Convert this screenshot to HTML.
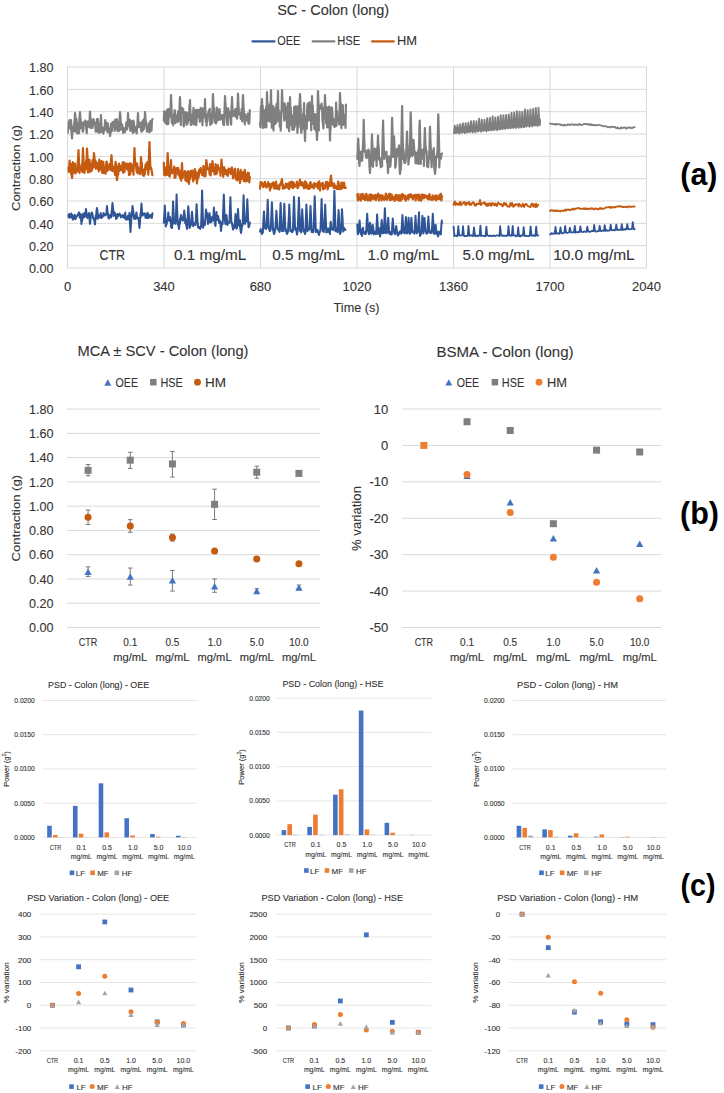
<!DOCTYPE html>
<html><head><meta charset="utf-8"><style>
html,body{margin:0;padding:0;background:#fff;}
svg{display:block;font-family:"Liberation Sans", sans-serif;}

</style></head><body>
<svg width="724" height="1093" viewBox="0 0 724 1093">
<defs><clipPath id="clipA"><rect x="67.5" y="67.0" width="579.0" height="201.0"/></clipPath></defs>
<rect width="724" height="1093" fill="#fff"/>
<text x="333.2" y="15.2" font-size="14" text-anchor="middle" textLength="112" lengthAdjust="spacingAndGlyphs" fill="#333333" stroke="#333333" stroke-width="0.10">SC - Colon (long)</text>
<line x1="251.6" y1="41.4" x2="275.4" y2="41.4" stroke="#2f5597" stroke-width="2.2"/>
<text x="277.3" y="45.3" font-size="12" textLength="23" lengthAdjust="spacingAndGlyphs" fill="#333333" stroke="#333333" stroke-width="0.10">OEE</text>
<line x1="311.8" y1="41.4" x2="335.3" y2="41.4" stroke="#7f7f7f" stroke-width="2.2"/>
<text x="337.2" y="45.3" font-size="12" textLength="23" lengthAdjust="spacingAndGlyphs" fill="#333333" stroke="#333333" stroke-width="0.10">HSE</text>
<line x1="371.2" y1="41.4" x2="394.7" y2="41.4" stroke="#c55a11" stroke-width="2.2"/>
<text x="397" y="45.3" font-size="12" textLength="20" lengthAdjust="spacingAndGlyphs" fill="#333333" stroke="#333333" stroke-width="0.10">HM</text>
<line x1="67.5" y1="268.0" x2="646.5" y2="268.0" stroke="#d9d9d9" stroke-width="1"/>
<text x="53.5" y="273.2" font-size="13" text-anchor="end" textLength="24.5" lengthAdjust="spacingAndGlyphs" fill="#333333" stroke="#333333" stroke-width="0.10">0.00</text>
<line x1="67.5" y1="245.66666666666666" x2="646.5" y2="245.66666666666666" stroke="#d9d9d9" stroke-width="1"/>
<text x="53.5" y="250.86666666666665" font-size="13" text-anchor="end" textLength="24.5" lengthAdjust="spacingAndGlyphs" fill="#333333" stroke="#333333" stroke-width="0.10">0.20</text>
<line x1="67.5" y1="223.33333333333331" x2="646.5" y2="223.33333333333331" stroke="#d9d9d9" stroke-width="1"/>
<text x="53.5" y="228.5333333333333" font-size="13" text-anchor="end" textLength="24.5" lengthAdjust="spacingAndGlyphs" fill="#333333" stroke="#333333" stroke-width="0.10">0.40</text>
<line x1="67.5" y1="201.0" x2="646.5" y2="201.0" stroke="#d9d9d9" stroke-width="1"/>
<text x="53.5" y="206.2" font-size="13" text-anchor="end" textLength="24.5" lengthAdjust="spacingAndGlyphs" fill="#333333" stroke="#333333" stroke-width="0.10">0.60</text>
<line x1="67.5" y1="178.66666666666666" x2="646.5" y2="178.66666666666666" stroke="#d9d9d9" stroke-width="1"/>
<text x="53.5" y="183.86666666666665" font-size="13" text-anchor="end" textLength="24.5" lengthAdjust="spacingAndGlyphs" fill="#333333" stroke="#333333" stroke-width="0.10">0.80</text>
<line x1="67.5" y1="156.33333333333334" x2="646.5" y2="156.33333333333334" stroke="#d9d9d9" stroke-width="1"/>
<text x="53.5" y="161.53333333333333" font-size="13" text-anchor="end" textLength="24.5" lengthAdjust="spacingAndGlyphs" fill="#333333" stroke="#333333" stroke-width="0.10">1.00</text>
<line x1="67.5" y1="133.99999999999997" x2="646.5" y2="133.99999999999997" stroke="#d9d9d9" stroke-width="1"/>
<text x="53.5" y="139.19999999999996" font-size="13" text-anchor="end" textLength="24.5" lengthAdjust="spacingAndGlyphs" fill="#333333" stroke="#333333" stroke-width="0.10">1.20</text>
<line x1="67.5" y1="111.66666666666666" x2="646.5" y2="111.66666666666666" stroke="#d9d9d9" stroke-width="1"/>
<text x="53.5" y="116.86666666666666" font-size="13" text-anchor="end" textLength="24.5" lengthAdjust="spacingAndGlyphs" fill="#333333" stroke="#333333" stroke-width="0.10">1.40</text>
<line x1="67.5" y1="89.33333333333331" x2="646.5" y2="89.33333333333331" stroke="#d9d9d9" stroke-width="1"/>
<text x="53.5" y="94.53333333333332" font-size="13" text-anchor="end" textLength="24.5" lengthAdjust="spacingAndGlyphs" fill="#333333" stroke="#333333" stroke-width="0.10">1.60</text>
<line x1="67.5" y1="67.0" x2="646.5" y2="67.0" stroke="#d9d9d9" stroke-width="1"/>
<text x="53.5" y="72.2" font-size="13" text-anchor="end" textLength="24.5" lengthAdjust="spacingAndGlyphs" fill="#333333" stroke="#333333" stroke-width="0.10">1.80</text>
<line x1="67.5" y1="67.0" x2="67.5" y2="268.0" stroke="#d9d9d9" stroke-width="1"/>
<text x="67.5" y="291" font-size="13" text-anchor="middle" fill="#333333" stroke="#333333" stroke-width="0.10">0</text>
<line x1="164.0" y1="67.0" x2="164.0" y2="268.0" stroke="#d9d9d9" stroke-width="1"/>
<text x="164.0" y="291" font-size="13" text-anchor="middle" fill="#333333" stroke="#333333" stroke-width="0.10">340</text>
<line x1="260.5" y1="67.0" x2="260.5" y2="268.0" stroke="#d9d9d9" stroke-width="1"/>
<text x="260.5" y="291" font-size="13" text-anchor="middle" fill="#333333" stroke="#333333" stroke-width="0.10">680</text>
<line x1="357.0" y1="67.0" x2="357.0" y2="268.0" stroke="#d9d9d9" stroke-width="1"/>
<text x="357.0" y="291" font-size="13" text-anchor="middle" fill="#333333" stroke="#333333" stroke-width="0.10">1020</text>
<line x1="453.5" y1="67.0" x2="453.5" y2="268.0" stroke="#d9d9d9" stroke-width="1"/>
<text x="453.5" y="291" font-size="13" text-anchor="middle" fill="#333333" stroke="#333333" stroke-width="0.10">1360</text>
<line x1="550.0" y1="67.0" x2="550.0" y2="268.0" stroke="#d9d9d9" stroke-width="1"/>
<text x="550.0" y="291" font-size="13" text-anchor="middle" fill="#333333" stroke="#333333" stroke-width="0.10">1700</text>
<line x1="646.5" y1="67.0" x2="646.5" y2="268.0" stroke="#d9d9d9" stroke-width="1"/>
<text x="646.5" y="291" font-size="13" text-anchor="middle" fill="#333333" stroke="#333333" stroke-width="0.10">2040</text>
<text x="356.6" y="312.4" font-size="13" text-anchor="middle" textLength="46" lengthAdjust="spacingAndGlyphs" fill="#333333" stroke="#333333" stroke-width="0.10">Time (s)</text>
<text x="0" y="0" transform="translate(19.8,168) rotate(-90)" font-size="11.5" text-anchor="middle" textLength="86" lengthAdjust="spacingAndGlyphs" fill="#333333" stroke="#333333" stroke-width="0.12">Contraction (g)</text>
<text x="112.3" y="259.6" font-size="14.5" text-anchor="middle" textLength="25.5" lengthAdjust="spacingAndGlyphs" fill="#333333" stroke="#333333" stroke-width="0.10">CTR</text>
<text x="210.2" y="259.6" font-size="14.5" text-anchor="middle" textLength="72.3" lengthAdjust="spacingAndGlyphs" fill="#333333" stroke="#333333" stroke-width="0.10">0.1 mg/mL</text>
<text x="308.5" y="259.6" font-size="14.5" text-anchor="middle" textLength="72.3" lengthAdjust="spacingAndGlyphs" fill="#333333" stroke="#333333" stroke-width="0.10">0.5 mg/mL</text>
<text x="403.3" y="259.6" font-size="14.5" text-anchor="middle" textLength="71.8" lengthAdjust="spacingAndGlyphs" fill="#333333" stroke="#333333" stroke-width="0.10">1.0 mg/mL</text>
<text x="498.5" y="259.6" font-size="14.5" text-anchor="middle" textLength="71.8" lengthAdjust="spacingAndGlyphs" fill="#333333" stroke="#333333" stroke-width="0.10">5.0 mg/mL</text>
<text x="593.9" y="259.6" font-size="14.5" text-anchor="middle" textLength="81.5" lengthAdjust="spacingAndGlyphs" fill="#333333" stroke="#333333" stroke-width="0.10">10.0 mg/mL</text>
<text x="698.8" y="184.5" font-size="32" text-anchor="middle" textLength="37" lengthAdjust="spacingAndGlyphs" font-weight="bold" fill="#000">(a)</text>
<g clip-path="url(#clipA)">
<path d="M67.8,132.7 L68.2,125.8 L68.7,121.6 L69.2,126.5 L69.6,120.2 L70.0,123.6 L70.5,129.2 L71.0,120.1 L71.2,128.6 L71.4,130.5 L71.8,136.3 L72.0,138.5 L72.3,131.3 L72.8,126.6 L72.8,126.6 L73.2,128.2 L73.7,125.7 L74.1,123.3 L74.2,131.4 L74.5,122.1 L75.0,113.0 L75.5,117.2 L75.8,131.5 L75.9,124.8 L76.3,118.8 L76.8,122.4 L77.2,133.5 L77.7,124.9 L78.2,130.5 L78.6,123.2 L79.0,133.3 L79.2,129.8 L79.5,117.2 L80.0,112.5 L80.0,112.0 L80.4,118.8 L80.8,120.8 L80.8,128.2 L81.3,122.0 L81.8,123.2 L82.2,123.4 L82.7,131.5 L83.1,131.6 L83.5,128.2 L84.0,122.0 L84.5,123.0 L84.9,123.2 L85.3,120.5 L85.8,122.4 L86.2,127.7 L86.7,133.2 L87.2,126.1 L87.6,121.5 L88.0,121.6 L88.5,122.5 L89.0,122.1 L89.2,121.7 L89.4,127.2 L89.8,114.1 L90.0,111.5 L90.3,115.6 L90.8,128.0 L90.8,127.7 L91.2,123.5 L91.7,119.8 L92.1,122.6 L92.5,128.0 L93.0,123.3 L93.5,119.0 L93.9,123.2 L94.3,121.4 L94.8,124.5 L95.2,124.2 L95.7,131.6 L96.2,129.2 L96.6,127.4 L97.0,119.1 L97.5,131.8 L98.0,119.1 L98.4,128.1 L98.8,123.6 L99.3,133.0 L99.8,129.9 L100.2,131.7 L100.7,121.9 L101.0,115.0 L101.1,117.2 L101.5,126.2 L101.8,131.8 L102.0,127.3 L102.5,127.5 L102.9,127.8 L103.3,133.7 L103.8,131.4 L104.2,129.8 L104.7,127.4 L105.2,120.1 L105.6,129.7 L106.0,126.0 L106.5,122.7 L107.0,128.0 L107.4,132.0 L107.8,123.3 L108.3,128.7 L108.8,132.4 L109.2,128.5 L109.7,130.6 L110.0,136.0 L110.1,135.4 L110.5,133.2 L110.8,127.5 L111.0,123.8 L111.5,131.4 L111.9,131.0 L112.3,123.0 L112.8,121.8 L113.2,122.0 L113.7,125.1 L114.2,123.5 L114.6,130.9 L115.0,119.9 L115.5,120.0 L116.0,129.4 L116.4,127.3 L116.8,119.1 L117.3,121.4 L117.8,131.2 L118.2,122.8 L118.7,128.2 L119.1,125.6 L119.2,130.9 L119.5,123.5 L120.0,112.0 L120.5,117.6 L120.8,129.5 L120.9,122.0 L121.3,129.3 L121.8,126.6 L122.2,124.7 L122.7,130.2 L123.2,132.8 L123.6,129.3 L124.0,128.2 L124.5,131.8 L125.0,132.0 L125.4,130.3 L125.8,128.6 L126.3,122.3 L126.8,128.4 L127.2,129.2 L127.7,122.0 L128.0,113.0 L128.1,114.3 L128.6,125.9 L128.8,120.0 L129.0,125.5 L129.4,126.1 L129.9,119.9 L130.3,130.8 L130.8,121.9 L131.2,120.9 L131.7,121.6 L132.2,131.4 L132.6,128.9 L133.1,133.0 L133.5,120.7 L133.9,123.2 L134.4,129.4 L134.8,131.5 L135.3,127.1 L135.8,131.5 L136.2,131.7 L136.7,133.3 L137.1,126.6 L137.2,126.8 L137.6,120.5 L138.0,113.0 L138.4,120.6 L138.8,127.2 L138.9,126.2 L139.3,126.9 L139.8,125.1 L140.2,122.8 L140.7,125.9 L141.2,131.0 L141.6,131.7 L142.1,121.7 L142.5,127.9 L142.9,130.5 L143.4,119.9 L143.8,129.1 L144.2,123.9 L144.3,119.3 L144.8,117.4 L145.0,112.0 L145.2,114.6 L145.7,122.1 L145.8,125.1 L146.1,121.9 L146.6,128.1 L147.0,131.6 L147.4,127.8 L147.9,129.9 L148.3,130.5 L148.8,123.5 L149.2,132.0 L149.7,132.1 L150.2,121.4 L150.6,122.7 L151.1,120.9 L151.5,130.6 L151.9,121.3 L152.4,119.1" fill="none" stroke="#7f7f7f" stroke-width="2.2" stroke-linejoin="round" stroke-linecap="round"/>
<path d="M67.8,169.7 L68.2,167.5 L68.7,172.0 L69.2,167.8 L69.6,160.7 L70.0,165.9 L70.5,171.6 L71.0,164.1 L71.2,174.4 L71.4,172.3 L71.8,174.8 L72.0,178.0 L72.3,176.4 L72.8,166.4 L72.8,162.0 L73.2,172.6 L73.7,165.0 L74.1,167.0 L74.5,172.2 L75.0,163.7 L75.5,173.6 L75.9,171.9 L76.3,168.1 L76.8,169.8 L77.2,171.4 L77.7,163.1 L78.2,156.8 L78.5,150.0 L78.6,153.0 L79.0,160.5 L79.3,169.8 L79.5,172.9 L80.0,167.4 L80.4,169.8 L80.8,167.4 L81.3,168.1 L81.8,164.4 L82.2,171.9 L82.7,154.9 L83.0,148.0 L83.1,150.8 L83.5,159.6 L83.8,172.0 L84.0,172.2 L84.5,172.9 L84.9,167.5 L85.3,164.6 L85.8,163.2 L86.2,160.3 L86.2,168.8 L86.7,157.0 L87.0,148.5 L87.2,151.6 L87.6,158.8 L87.8,171.9 L88.0,172.4 L88.5,162.8 L89.0,172.1 L89.4,159.7 L89.8,162.7 L90.3,171.6 L90.8,167.6 L91.2,171.2 L91.7,163.9 L92.1,170.1 L92.5,160.2 L93.0,159.7 L93.2,167.5 L93.5,163.0 L93.9,154.3 L94.0,153.0 L94.3,156.8 L94.8,159.7 L95.2,165.7 L95.7,168.6 L96.2,161.7 L96.6,166.4 L97.0,163.0 L97.5,164.8 L98.0,169.2 L98.4,169.5 L98.8,171.3 L99.3,159.7 L99.8,166.2 L100.2,162.1 L100.7,169.4 L101.1,164.1 L101.5,161.0 L102.0,172.4 L102.5,164.3 L102.9,173.2 L103.3,161.9 L103.8,170.2 L104.2,172.9 L104.7,167.4 L105.2,167.9 L105.6,173.8 L106.0,165.3 L106.5,161.7 L107.0,161.9 L107.4,170.9 L107.8,166.7 L108.3,169.4 L108.8,166.7 L109.2,166.1 L109.7,164.1 L110.1,164.0 L110.5,170.2 L110.7,167.0 L111.0,160.8 L111.5,155.9 L111.5,155.0 L111.9,161.3 L112.3,170.6 L112.3,169.6 L112.8,171.1 L113.2,170.7 L113.7,170.3 L114.2,166.4 L114.6,169.5 L115.0,175.0 L115.5,161.9 L116.0,166.7 L116.2,163.8 L116.4,169.1 L116.8,178.9 L117.0,180.0 L117.3,177.8 L117.8,166.9 L117.8,170.2 L118.2,174.7 L118.7,166.2 L119.1,163.7 L119.5,170.8 L120.0,165.5 L120.5,167.1 L120.9,167.8 L121.3,170.2 L121.8,167.1 L122.2,165.9 L122.7,162.3 L123.2,172.8 L123.6,162.2 L124.0,168.9 L124.5,171.8 L125.0,165.7 L125.4,163.3 L125.8,166.6 L126.3,167.2 L126.8,164.5 L127.2,169.5 L127.7,163.5 L128.1,169.9 L128.6,165.7 L129.0,175.1 L129.4,174.0 L129.9,163.4 L130.3,174.3 L130.8,164.9 L131.2,163.7 L131.7,171.0 L132.2,168.9 L132.6,166.1 L133.1,167.4 L133.5,174.8 L133.7,163.9 L133.9,164.4 L134.4,150.2 L134.5,148.0 L134.8,157.3 L135.3,164.5 L135.8,164.3 L136.2,168.0 L136.7,171.7 L137.1,163.4 L137.6,173.4 L138.0,167.2 L138.4,169.6 L138.9,172.2 L139.3,169.1 L139.8,173.5 L140.2,174.3 L140.2,172.1 L140.7,163.5 L141.0,157.0 L141.2,159.0 L141.6,169.2 L141.8,162.9 L142.1,170.6 L142.5,172.3 L142.9,175.1 L143.4,169.5 L143.8,175.9 L144.3,169.6 L144.8,174.3 L145.2,167.1 L145.7,164.3 L146.1,169.3 L146.6,163.6 L147.0,162.8 L147.4,162.1 L147.9,170.7 L148.3,174.6 L148.7,168.9 L148.8,160.6 L149.2,149.3 L149.5,142.0 L149.7,149.4 L150.2,162.7 L150.3,166.9 L150.6,168.9 L151.1,167.8 L151.5,169.5 L151.9,172.1 L152.4,175.1" fill="none" stroke="#c55a11" stroke-width="2.2" stroke-linejoin="round" stroke-linecap="round"/>
<path d="M67.8,215.2 L68.5,217.3 L69.2,213.9 L69.9,217.8 L70.6,217.3 L71.3,213.4 L72.0,215.3 L72.7,219.5 L73.4,219.4 L74.1,215.3 L74.8,214.9 L75.5,219.2 L76.2,216.7 L76.9,216.3 L77.6,214.9 L78.3,213.9 L79.0,212.3 L79.7,217.7 L80.0,213.8 L80.4,214.4 L81.0,218.0 L81.1,219.7 L81.4,224.0 L81.8,220.0 L82.0,221.4 L82.4,219.3 L82.5,214.5 L83.2,213.7 L83.9,217.4 L84.6,213.1 L85.0,216.8 L85.3,214.9 L86.0,209.0 L86.7,214.6 L87.0,215.6 L87.4,218.1 L88.1,216.5 L88.8,213.3 L89.0,213.0 L89.5,218.9 L90.0,224.0 L90.2,222.4 L90.9,215.2 L91.0,215.1 L91.6,212.4 L92.3,213.3 L93.0,217.5 L93.7,219.3 L94.0,218.1 L94.4,221.4 L95.0,224.5 L95.1,223.5 L95.8,215.4 L96.0,218.6 L96.5,210.9 L97.0,208.0 L97.2,209.1 L97.9,214.9 L98.0,218.8 L98.6,215.3 L99.3,215.7 L100.0,217.5 L100.7,213.1 L101.4,218.0 L102.1,217.5 L102.8,216.6 L103.5,213.0 L104.2,215.5 L104.9,214.5 L105.6,215.5 L106.0,214.0 L106.3,214.4 L107.0,206.0 L107.7,213.6 L108.0,213.7 L108.4,218.2 L109.1,218.5 L109.8,215.2 L110.5,214.8 L111.2,217.4 L111.5,212.6 L111.9,209.7 L112.5,203.0 L112.6,204.6 L113.3,210.5 L113.5,215.9 L114.0,212.1 L114.7,212.5 L115.4,214.4 L116.1,218.9 L116.8,218.2 L117.5,214.1 L118.2,216.3 L118.9,214.7 L119.6,213.6 L120.3,215.1 L121.0,217.4 L121.7,216.1 L122.4,215.1 L123.1,217.2 L123.8,215.3 L124.5,218.3 L125.2,212.5 L125.9,219.2 L126.6,219.8 L127.3,218.1 L128.0,215.9 L128.7,219.5 L129.4,214.5 L129.5,212.8 L130.1,225.4 L130.5,232.0 L130.8,227.1 L131.5,215.9 L132.2,209.9 L132.5,206.0 L132.9,209.0 L133.5,213.1 L133.6,216.5 L134.3,218.9 L135.0,215.4 L135.7,219.1 L136.4,212.4 L137.1,217.6 L137.8,218.5 L138.5,217.7 L139.2,225.4 L139.5,228.0 L139.9,223.1 L140.5,213.5 L140.6,217.4 L141.3,205.5 L141.5,203.5 L142.0,211.4 L142.5,214.2 L142.7,215.6 L143.4,213.6 L144.1,214.1 L144.8,213.4 L145.5,217.8 L146.2,214.2 L146.9,218.0 L147.6,212.8 L148.3,218.1 L149.0,214.8 L149.7,217.3 L150.4,216.8 L151.1,214.7 L151.8,218.1 L152.5,213.3" fill="none" stroke="#2f5597" stroke-width="2.0" stroke-linejoin="round" stroke-linecap="round"/>
<path d="M163.8,120.7 L164.2,111.4 L164.7,113.2 L165.2,122.8 L165.6,118.6 L166.1,120.2 L166.5,111.0 L166.9,124.4 L167.4,109.4 L167.8,120.6 L168.3,123.9 L168.8,109.2 L169.2,117.6 L169.7,110.4 L170.1,110.0 L170.2,116.1 L170.6,108.9 L171.0,95.0 L171.4,104.1 L171.8,122.8 L171.9,119.2 L172.3,117.0 L172.8,121.6 L173.2,125.3 L173.7,114.6 L174.2,115.0 L174.6,110.0 L175.1,112.8 L175.5,123.2 L175.9,117.3 L176.4,116.0 L176.8,117.6 L177.3,115.1 L177.8,121.9 L178.2,111.1 L178.7,120.6 L179.1,114.3 L179.2,119.6 L179.6,105.3 L180.0,97.0 L180.4,108.2 L180.8,125.0 L180.9,114.6 L181.3,111.9 L181.8,107.8 L182.2,113.2 L182.7,112.3 L183.2,108.8 L183.6,126.3 L184.1,125.7 L184.5,113.8 L184.9,122.0 L185.4,112.0 L185.8,117.6 L186.3,112.6 L186.8,124.7 L187.2,113.1 L187.7,123.5 L188.1,117.4 L188.6,120.4 L189.0,113.0 L189.2,112.9 L189.4,106.9 L189.9,103.0 L190.0,100.0 L190.3,111.0 L190.8,125.0 L191.2,124.9 L191.7,118.7 L192.2,123.9 L192.6,114.1 L193.1,114.7 L193.5,107.8 L193.9,120.6 L194.4,124.5 L194.8,124.0 L195.3,114.7 L195.8,110.1 L196.2,125.2 L196.7,120.2 L197.1,109.8 L197.6,117.5 L198.0,112.1 L198.4,115.3 L198.9,110.1 L199.3,109.9 L199.8,121.8 L200.2,119.6 L200.7,107.9 L201.2,116.6 L201.6,120.0 L202.1,114.1 L202.5,125.3 L202.9,108.4 L203.4,111.1 L203.8,115.6 L204.2,116.8 L204.3,117.5 L204.8,105.2 L205.0,99.0 L205.2,105.1 L205.7,118.0 L205.8,121.7 L206.1,115.0 L206.6,125.7 L207.0,117.7 L207.4,121.2 L207.9,113.7 L208.3,113.1 L208.8,110.5 L209.2,112.0 L209.7,108.9 L210.2,125.0 L210.6,118.4 L211.1,124.2 L211.5,113.6 L211.9,123.2 L212.2,118.5 L212.4,112.7 L212.8,97.5 L213.0,94.0 L213.3,101.8 L213.8,110.0 L213.8,112.4 L214.2,108.1 L214.7,122.4 L215.1,113.9 L215.6,120.6 L216.0,123.5 L216.4,122.3 L216.9,107.5 L217.3,113.3 L217.8,110.2 L218.2,120.2 L218.7,110.5 L219.2,113.3 L219.6,109.0 L220.1,119.7 L220.5,117.0 L220.9,119.1 L221.4,119.1 L221.8,115.9 L222.3,114.9 L222.8,116.8 L223.2,124.5 L223.7,116.3 L224.1,125.1 L224.2,119.6 L224.6,108.6 L225.0,96.0 L225.4,102.8 L225.8,109.7 L225.9,107.1 L226.3,112.1 L226.8,118.6 L227.2,124.4 L227.7,124.9 L228.2,108.3 L228.6,115.9 L229.1,111.3 L229.5,117.2 L229.9,113.2 L230.4,118.4 L230.8,124.1 L231.2,124.6 L231.3,111.8 L231.8,103.6 L232.0,97.0 L232.2,101.7 L232.7,115.9 L232.8,113.3 L233.1,114.3 L233.6,116.0 L234.0,111.1 L234.4,113.6 L234.9,111.7 L235.3,109.2 L235.8,116.9 L236.2,111.5 L236.7,114.8 L237.2,118.7 L237.2,110.6 L237.6,105.6 L238.0,93.5 L238.1,95.5 L238.5,105.9 L238.8,110.0 L238.9,114.5 L239.4,113.7 L239.8,113.6 L240.3,113.0 L240.8,118.9 L241.2,119.0 L241.7,108.9 L242.1,111.4 L242.2,121.4 L242.6,103.4 L243.0,95.0 L243.4,104.0 L243.8,110.9 L243.9,117.8 L244.3,115.7 L244.8,124.4 L245.2,114.2 L245.7,120.2 L246.2,120.4 L246.6,120.4 L247.1,116.1 L247.5,120.1 L247.9,113.6 L248.4,123.4 L248.8,121.0 L249.3,123.7 L249.8,110.0" fill="none" stroke="#7f7f7f" stroke-width="2.2" stroke-linejoin="round" stroke-linecap="round"/>
<path d="M163.8,162.8 L164.2,175.0 L164.7,171.2 L165.2,167.6 L165.6,175.5 L166.1,167.5 L166.5,172.2 L166.9,174.9 L166.9,173.5 L167.4,159.8 L167.7,153.0 L167.8,156.4 L168.3,170.5 L168.5,171.1 L168.8,167.3 L169.2,175.9 L169.7,176.6 L170.1,172.6 L170.2,173.0 L170.6,164.1 L171.0,160.0 L171.4,169.1 L171.8,170.2 L171.9,173.3 L172.3,169.9 L172.8,172.6 L173.2,172.4 L173.7,171.2 L174.2,166.7 L174.6,178.0 L175.1,171.1 L175.5,177.5 L175.9,171.4 L176.4,168.1 L176.8,173.6 L177.3,171.3 L177.8,169.2 L178.2,168.0 L178.7,175.4 L179.1,170.2 L179.6,172.6 L180.0,177.8 L180.4,178.6 L180.9,174.2 L181.2,180.7 L181.3,174.6 L181.8,166.3 L182.0,163.0 L182.2,167.1 L182.7,177.9 L182.8,176.6 L183.2,173.1 L183.6,174.2 L184.1,172.5 L184.5,173.4 L184.9,171.0 L185.4,180.4 L185.8,172.1 L186.3,175.5 L186.8,172.7 L187.2,181.7 L187.7,180.3 L188.1,181.0 L188.2,171.1 L188.6,179.0 L189.0,184.0 L189.4,178.2 L189.8,173.8 L189.9,179.1 L190.3,172.7 L190.8,170.8 L191.2,176.3 L191.7,176.0 L192.2,170.5 L192.6,177.5 L193.1,181.3 L193.5,175.9 L193.9,171.0 L194.4,179.2 L194.8,169.1 L195.3,170.5 L195.8,178.1 L196.2,172.6 L196.7,181.2 L197.0,183.5 L197.1,181.8 L197.6,178.6 L197.8,177.4 L198.0,172.4 L198.4,177.8 L198.9,175.3 L199.3,169.5 L199.8,171.3 L200.2,169.6 L200.7,168.0 L201.2,173.0 L201.6,172.5 L202.1,175.1 L202.5,174.2 L202.9,175.2 L203.4,165.8 L203.8,167.5 L204.3,176.4 L204.8,169.8 L205.2,168.5 L205.5,176.1 L205.7,172.8 L206.1,163.5 L206.3,160.0 L206.6,162.2 L207.0,166.5 L207.1,164.4 L207.4,169.3 L207.9,168.1 L208.3,169.0 L208.8,168.4 L209.2,170.7 L209.7,174.6 L210.2,164.2 L210.6,175.5 L211.1,165.4 L211.5,167.2 L211.7,164.4 L211.9,171.4 L212.4,162.1 L212.5,161.0 L212.8,164.2 L213.3,169.0 L213.8,169.9 L214.2,172.0 L214.7,174.5 L215.1,172.5 L215.6,164.2 L216.0,165.7 L216.4,174.2 L216.9,167.3 L217.3,172.4 L217.8,165.1 L218.2,168.2 L218.7,167.7 L219.2,168.7 L219.6,169.6 L220.1,169.6 L220.5,175.8 L220.7,167.8 L220.9,170.3 L221.4,161.0 L221.5,159.5 L221.8,163.0 L222.3,171.6 L222.8,169.4 L223.2,176.8 L223.7,170.2 L224.1,167.0 L224.6,172.9 L225.0,169.4 L225.4,174.1 L225.9,174.3 L226.3,170.3 L226.8,173.8 L227.2,171.4 L227.7,175.9 L228.2,172.5 L228.6,168.5 L229.1,172.3 L229.5,168.9 L229.9,169.6 L230.4,172.2 L230.8,174.0 L231.3,169.9 L231.8,167.4 L232.2,168.9 L232.7,173.9 L233.1,178.5 L233.6,172.7 L234.0,176.4 L234.4,172.6 L234.9,168.6 L235.3,169.5 L235.8,178.9 L236.2,179.5 L236.7,176.6 L237.2,180.4 L237.6,179.5 L238.1,169.1 L238.5,176.2 L238.9,172.2 L239.2,176.3 L239.4,174.9 L239.8,181.8 L240.0,183.0 L240.3,181.5 L240.8,169.9 L240.8,170.8 L241.2,179.2 L241.7,177.1 L242.1,178.7 L242.6,174.2 L243.0,172.2 L243.4,172.3 L243.9,181.2 L244.3,173.6 L244.8,169.9 L245.2,181.1 L245.7,181.5 L246.2,176.3 L246.6,174.2 L247.1,181.0 L247.5,175.0 L247.9,172.5 L248.4,176.0 L248.8,173.1 L249.3,182.4 L249.8,177.2" fill="none" stroke="#c55a11" stroke-width="2.2" stroke-linejoin="round" stroke-linecap="round"/>
<path d="M163.8,222.8 L164.5,211.8 L164.8,205.5 L165.2,212.5 L165.8,226.4 L165.9,224.8 L166.6,224.4 L167.3,220.7 L168.0,216.7 L168.3,212.5 L168.7,216.4 L169.0,219.3 L169.3,220.9 L169.4,219.8 L170.0,217.0 L170.1,217.6 L170.8,220.6 L171.0,227.3 L171.5,226.8 L172.0,228.0 L172.1,227.4 L172.2,226.3 L172.9,207.5 L173.0,203.3 L173.1,201.4 L173.6,212.2 L174.1,223.4 L174.3,220.1 L175.0,220.6 L175.6,220.8 L175.7,223.7 L176.4,201.2 L176.6,194.5 L177.1,209.2 L177.6,220.4 L177.8,221.5 L178.0,224.5 L178.5,225.5 L179.0,229.0 L179.2,226.8 L179.9,218.8 L180.0,223.7 L180.6,217.5 L181.0,215.0 L181.3,216.9 L182.0,219.0 L182.7,220.6 L183.2,219.9 L183.4,218.1 L184.1,211.5 L184.2,210.4 L184.8,215.4 L185.2,223.1 L185.5,218.6 L186.0,224.2 L186.2,224.9 L186.9,228.2 L187.0,229.0 L187.3,227.3 L187.6,222.6 L188.0,210.0 L188.3,206.2 L189.0,216.2 L189.3,221.8 L189.7,227.9 L190.4,226.0 L191.0,224.4 L191.1,224.8 L191.8,213.7 L192.0,211.8 L192.5,217.3 L193.0,225.0 L193.2,226.2 L193.9,223.9 L194.6,223.1 L195.3,224.7 L195.6,224.9 L196.0,217.4 L196.6,204.2 L196.7,206.2 L197.4,218.8 L197.6,222.9 L198.0,223.5 L198.1,227.5 L198.8,227.6 L199.0,228.0 L199.5,227.1 L200.0,227.1 L200.2,228.9 L200.9,227.1 L201.1,225.5 L201.6,210.8 L202.1,190.4 L202.3,197.3 L203.0,220.6 L203.1,227.8 L203.7,225.8 L204.4,221.4 L205.0,224.7 L205.1,222.8 L205.8,212.9 L206.0,209.5 L206.5,214.2 L207.0,213.0 L207.2,214.8 L207.9,222.0 L208.0,224.0 L208.5,222.5 L208.6,220.6 L209.3,213.9 L209.5,213.0 L210.0,217.1 L210.5,222.5 L210.7,221.8 L211.4,221.9 L212.1,217.0 L212.8,218.9 L212.9,220.5 L213.5,214.0 L213.9,207.6 L214.2,212.1 L214.9,223.7 L215.5,226.0 L215.6,222.7 L216.3,214.2 L216.5,212.0 L217.0,218.6 L217.5,219.9 L217.7,217.1 L218.0,216.0 L218.4,217.3 L219.0,222.7 L219.1,219.8 L219.8,222.0 L220.0,221.0 L220.5,224.9 L221.0,231.0 L221.2,228.9 L221.9,222.2 L222.0,222.6 L222.6,224.3 L222.8,220.8 L223.3,208.0 L223.8,194.5 L224.0,200.1 L224.7,218.2 L224.8,219.4 L225.4,223.8 L225.5,224.0 L226.1,219.3 L226.5,215.0 L226.8,218.4 L227.5,224.9 L228.2,223.0 L228.9,222.0 L229.4,222.8 L229.6,217.3 L230.3,200.2 L230.4,197.3 L231.0,215.2 L231.4,221.4 L231.7,223.5 L232.0,222.8 L232.4,225.9 L233.0,229.5 L233.1,228.9 L233.8,227.1 L234.0,225.2 L234.5,227.9 L235.2,218.0 L235.5,214.0 L235.9,218.2 L236.5,225.1 L236.6,228.7 L237.0,227.7 L237.3,222.3 L238.0,209.0 L238.7,220.8 L239.0,225.4 L239.4,220.6 L240.0,220.2 L240.1,227.6 L240.8,231.9 L241.0,233.0 L241.5,230.4 L242.0,224.0 L242.2,226.5 L242.6,224.2 L242.9,216.9 L243.6,195.2 L244.3,215.5 L244.6,223.8 L245.0,223.9 L245.7,219.0 L246.3,221.6 L246.4,218.0 L247.1,203.7 L247.3,199.3 L247.8,210.6 L248.3,223.9 L248.5,227.3 L249.2,226.4 L249.9,222.5" fill="none" stroke="#2f5597" stroke-width="2.0" stroke-linejoin="round" stroke-linecap="round"/>
<path d="M260.0,123.2 L260.4,127.2 L260.9,106.6 L261.2,109.8 L261.4,114.8 L261.8,101.6 L262.0,99.0 L262.2,105.7 L262.7,105.6 L262.8,127.9 L263.1,127.6 L263.6,124.3 L264.1,110.0 L264.5,127.3 L264.9,119.5 L265.4,115.5 L265.9,111.7 L266.2,106.8 L266.3,127.5 L266.8,101.6 L267.0,92.0 L267.2,99.6 L267.6,105.2 L267.8,118.1 L268.1,120.8 L268.6,114.6 L269.0,109.3 L269.4,110.1 L269.9,104.3 L270.2,121.7 L270.4,117.9 L270.8,99.9 L271.0,90.0 L271.2,101.5 L271.7,111.7 L271.8,127.8 L272.1,108.3 L272.6,127.4 L273.1,106.2 L273.5,130.6 L273.9,108.6 L274.4,120.8 L274.9,113.1 L275.3,123.9 L275.8,107.1 L276.2,122.6 L276.6,104.1 L277.1,121.5 L277.2,103.2 L277.6,105.0 L278.0,91.0 L278.4,113.7 L278.8,110.3 L278.9,120.2 L279.4,113.4 L279.8,126.8 L280.2,117.4 L280.7,130.6 L281.1,122.8 L281.2,111.8 L281.6,110.1 L282.0,90.0 L282.1,92.4 L282.5,103.0 L282.8,109.6 L282.9,111.6 L283.4,103.2 L283.9,114.6 L284.3,120.6 L284.8,103.7 L285.2,116.9 L285.6,119.0 L286.1,115.5 L286.6,107.4 L287.0,127.5 L287.4,109.6 L287.9,103.0 L288.4,107.1 L288.8,129.2 L289.2,131.2 L289.2,105.4 L289.7,107.9 L290.0,97.0 L290.1,98.9 L290.6,120.9 L290.8,107.7 L291.1,112.7 L291.5,125.9 L291.9,122.7 L292.4,129.6 L292.9,115.7 L293.3,119.5 L293.8,129.8 L294.2,106.8 L294.6,127.2 L295.1,118.4 L295.6,111.2 L296.0,106.0 L296.4,124.5 L296.9,106.5 L297.4,133.0 L297.8,126.1 L298.2,127.8 L298.7,123.5 L299.1,105.4 L299.2,112.2 L299.6,102.2 L300.0,94.0 L300.1,94.6 L300.5,104.5 L300.8,109.7 L300.9,127.3 L301.4,132.8 L301.9,124.8 L302.3,116.3 L302.8,128.7 L303.2,113.6 L303.6,116.8 L304.1,103.1 L304.2,126.5 L304.6,129.3 L305.0,141.0 L305.4,128.2 L305.8,126.8 L305.9,122.1 L306.4,115.5 L306.8,128.7 L307.2,107.6 L307.7,103.7 L308.1,117.5 L308.6,117.1 L309.1,120.5 L309.5,102.3 L309.9,116.1 L310.4,108.8 L310.9,105.0 L311.2,130.3 L311.3,120.7 L311.8,106.9 L312.0,96.0 L312.2,103.1 L312.6,117.3 L312.8,106.1 L313.1,123.8 L313.6,121.9 L314.0,120.6 L314.4,129.2 L314.9,114.2 L315.4,119.7 L315.8,115.1 L316.2,131.5 L316.2,114.7 L316.7,133.7 L317.0,140.0 L317.1,135.3 L317.2,136.6 L317.6,112.6 L317.8,97.0 L318.0,91.0 L318.1,92.2 L318.5,103.7 L318.8,130.6 L318.9,111.1 L319.4,109.2 L319.9,105.5 L320.3,107.1 L320.8,108.6 L321.2,108.0 L321.6,103.5 L322.1,110.0 L322.6,122.4 L323.0,123.3 L323.4,128.4 L323.9,107.9 L324.2,118.1 L324.4,113.8 L324.8,102.2 L325.0,95.0 L325.2,99.9 L325.7,116.6 L325.8,110.7 L326.1,123.5 L326.6,107.0 L327.1,127.5 L327.5,127.1 L327.9,109.7 L328.4,115.7 L328.9,106.5 L329.2,115.0 L329.3,125.5 L329.8,132.0 L330.0,140.5 L330.2,131.7 L330.6,128.6 L330.8,115.1 L331.1,107.4 L331.6,109.6 L332.0,107.8 L332.4,113.2 L332.9,124.5 L333.4,125.0 L333.8,119.3 L334.2,126.8 L334.7,120.3 L335.1,119.1 L335.6,126.4 L336.1,102.6 L336.5,125.6 L336.9,110.9 L337.4,119.0 L337.9,120.4 L338.3,119.1 L338.8,118.6 L339.2,124.5 L339.6,109.0 L340.0,93.0 L340.1,95.1 L340.6,108.6 L340.8,103.3 L341.0,113.3 L341.4,128.3 L341.9,108.0 L342.4,119.6 L342.8,105.1 L343.2,124.8 L343.7,119.3 L344.1,123.7 L344.6,116.0 L345.1,114.5 L345.5,128.0 L345.9,104.7" fill="none" stroke="#7f7f7f" stroke-width="2.2" stroke-linejoin="round" stroke-linecap="round"/>
<path d="M260.0,188.7 L260.6,182.1 L261.1,185.6 L261.6,182.4 L262.2,182.9 L262.8,185.0 L263.3,187.1 L263.9,184.7 L264.4,184.1 L264.9,181.9 L265.5,186.7 L266.1,186.2 L266.6,187.5 L267.1,184.3 L267.7,183.7 L268.2,182.1 L268.8,186.1 L269.2,184.9 L269.4,184.0 L269.9,189.7 L270.0,190.5 L270.4,185.8 L270.8,185.9 L271.0,187.8 L271.6,183.5 L272.1,183.8 L272.6,183.2 L273.2,182.3 L273.8,188.1 L274.3,183.3 L274.9,186.1 L275.4,188.7 L275.9,181.5 L276.5,184.7 L277.1,186.9 L277.6,189.0 L278.1,185.6 L278.7,189.1 L279.2,189.4 L279.8,184.3 L280.4,185.0 L280.9,183.0 L281.2,182.9 L281.4,181.2 L282.0,179.0 L282.6,185.0 L282.8,188.7 L283.1,184.9 L283.6,188.0 L284.2,188.4 L284.8,187.0 L285.3,187.9 L285.9,183.5 L286.4,184.6 L286.9,185.7 L287.5,187.8 L288.1,183.9 L288.6,185.8 L289.1,189.2 L289.7,182.0 L290.2,183.0 L290.8,185.8 L291.4,187.2 L291.9,181.5 L292.4,182.2 L293.0,188.1 L293.6,182.5 L294.1,184.9 L294.6,187.0 L295.2,185.1 L295.8,185.8 L296.3,185.5 L296.9,181.7 L297.4,188.2 L297.9,187.7 L298.5,186.6 L299.1,183.7 L299.2,184.1 L299.6,181.7 L300.0,179.5 L300.1,180.6 L300.7,184.9 L300.8,181.8 L301.2,183.1 L301.8,185.3 L302.4,182.3 L302.9,185.9 L303.4,184.9 L304.0,188.3 L304.6,183.3 L305.1,181.4 L305.6,187.7 L306.2,182.3 L306.8,187.9 L307.3,184.4 L307.9,186.7 L308.4,188.9 L308.9,186.5 L309.5,188.8 L310.1,182.8 L310.6,182.2 L311.1,187.1 L311.7,185.9 L312.2,187.4 L312.8,186.1 L313.4,184.0 L313.9,188.4 L314.4,183.0 L315.0,186.3 L315.6,185.6 L316.1,184.1 L316.6,186.5 L317.2,183.7 L317.8,188.3 L318.3,182.1 L318.9,184.4 L319.2,181.3 L319.4,186.0 L319.9,190.2 L320.0,190.5 L320.5,186.3 L320.8,184.7 L321.1,184.6 L321.6,183.3 L322.1,184.8 L322.7,182.8 L323.2,189.3 L323.8,185.6 L324.4,186.2 L324.9,188.5 L325.4,184.7 L326.0,181.9 L326.6,184.3 L327.1,181.9 L327.6,189.4 L328.2,187.2 L328.8,183.3 L329.3,182.7 L329.9,186.1 L330.2,185.4 L330.4,180.1 L330.9,176.1 L331.0,175.5 L331.5,182.2 L331.8,185.6 L332.1,183.0 L332.6,183.3 L333.1,183.6 L333.7,187.8 L334.2,183.7 L334.8,187.8 L335.4,185.8 L335.9,186.9 L336.4,188.8 L337.0,188.9 L337.6,188.9 L338.1,181.7 L338.6,182.1 L339.2,189.2 L339.8,186.3 L340.3,185.9 L340.9,189.1 L341.4,182.7 L341.9,187.1 L342.5,188.1 L343.1,182.8 L343.6,186.7 L344.1,182.5 L344.7,188.0 L345.2,187.3 L345.8,187.9" fill="none" stroke="#c55a11" stroke-width="2.2" stroke-linejoin="round" stroke-linecap="round"/>
<path d="M260.0,231.6 L260.7,229.0 L260.9,232.0 L261.4,231.0 L262.0,234.0 L262.1,233.8 L262.8,232.7 L262.9,231.2 L263.1,226.6 L263.5,218.9 L264.0,211.4 L264.2,215.1 L264.9,227.4 L265.1,228.3 L265.6,228.9 L266.3,228.7 L266.6,228.1 L267.0,218.5 L267.7,199.7 L268.4,219.1 L268.8,228.4 L269.1,228.2 L269.8,231.2 L270.5,230.3 L270.8,228.1 L271.2,219.4 L271.9,202.2 L272.6,219.0 L272.9,227.4 L273.0,229.8 L273.3,230.8 L274.0,234.0 L274.7,232.3 L275.1,228.2 L275.3,230.2 L275.4,228.0 L276.1,216.2 L276.4,210.7 L276.8,216.9 L277.5,228.1 L278.2,229.8 L278.9,229.6 L279.5,231.9 L279.6,229.4 L280.3,210.3 L280.6,203.1 L281.0,212.3 L281.7,231.0 L282.4,230.6 L283.1,231.2 L283.2,229.7 L283.8,216.3 L284.3,203.8 L284.5,208.6 L285.2,225.7 L285.4,231.0 L285.9,228.9 L286.6,232.7 L287.0,234.0 L287.3,233.5 L288.0,231.6 L288.1,230.3 L288.2,227.5 L288.7,219.5 L289.3,204.5 L289.4,206.7 L290.1,224.1 L290.4,231.3 L290.8,229.3 L291.5,231.3 L292.2,232.3 L292.9,231.1 L293.6,208.0 L294.0,196.9 L294.3,205.4 L295.0,226.3 L295.1,229.7 L295.7,228.7 L295.9,228.1 L296.4,231.1 L297.0,234.5 L297.1,234.1 L297.8,230.3 L298.1,219.6 L298.5,209.1 L298.9,197.6 L299.2,205.8 L299.9,226.8 L300.0,231.1 L300.6,228.8 L301.1,232.4 L301.3,225.7 L302.0,213.2 L302.2,209.3 L302.7,217.7 L303.3,228.8 L303.4,231.4 L303.9,229.5 L304.1,231.2 L304.8,233.0 L305.0,234.0 L305.3,233.3 L305.5,230.8 L306.1,211.6 L306.2,209.5 L306.4,204.5 L306.9,215.2 L307.5,231.2 L307.6,227.7 L308.3,228.5 L309.0,228.4 L309.4,229.7 L309.7,222.1 L310.4,208.1 L310.5,205.9 L311.1,218.0 L311.6,232.0 L311.8,230.1 L312.5,231.5 L313.2,232.2 L313.6,229.1 L313.9,220.9 L314.6,199.3 L314.7,196.2 L315.3,214.1 L315.8,231.6 L316.0,232.1 L316.7,231.7 L317.4,229.8 L317.9,231.5 L318.1,232.4 L318.8,234.4 L319.0,235.0 L319.5,232.4 L320.1,231.6 L320.2,230.7 L320.5,229.1 L320.9,219.2 L321.6,199.0 L322.3,219.6 L322.7,231.1 L323.0,228.0 L323.7,232.0 L324.1,229.7 L324.4,222.2 L325.1,206.7 L325.2,204.5 L325.8,219.0 L326.3,232.4 L326.5,228.1 L327.2,228.4 L327.9,232.1 L328.6,228.4 L328.9,231.4 L329.2,230.4 L329.3,229.6 L330.0,234.0 L330.3,226.5 L330.7,221.8 L331.1,224.8 L331.4,229.6 L332.1,228.5 L332.8,228.3 L333.3,230.1 L333.5,223.9 L334.2,197.4 L334.4,190.7 L334.9,209.0 L335.5,231.3 L335.6,229.3 L336.3,230.8 L337.0,228.1 L337.5,232.1 L337.7,227.3 L338.4,213.8 L338.6,210.0 L338.9,215.8 L339.1,222.5 L339.7,233.2 L339.8,233.2 L340.0,234.0 L340.5,233.0 L340.9,231.5 L341.1,226.2 L341.2,225.8 L341.9,211.1 L342.0,209.3 L342.6,219.9 L343.1,230.3 L343.3,231.5 L344.0,227.7 L344.7,228.7 L345.4,230.0" fill="none" stroke="#2f5597" stroke-width="2.0" stroke-linejoin="round" stroke-linecap="round"/>
<path d="M357.3,158.8 L357.9,148.1 L358.2,138.5 L358.4,143.0 L358.9,151.6 L359.2,163.0 L359.5,166.0 L360.1,155.4 L360.6,160.6 L361.1,151.7 L361.7,151.3 L362.2,160.7 L362.7,149.7 L362.8,149.4 L363.4,136.7 L363.7,119.9 L363.9,128.3 L364.4,143.2 L364.7,151.6 L365.0,150.7 L365.6,151.9 L366.1,157.1 L366.6,158.0 L367.2,150.8 L367.8,153.6 L368.3,149.5 L368.9,158.5 L369.0,150.7 L369.4,164.4 L369.9,172.2 L370.0,173.0 L370.5,161.9 L371.0,165.3 L371.1,164.3 L371.6,145.5 L372.0,134.4 L372.1,139.3 L372.7,150.0 L373.0,166.8 L373.2,153.7 L373.8,160.6 L374.4,157.4 L374.9,148.7 L375.4,154.6 L376.0,153.7 L376.6,165.9 L377.0,148.7 L377.1,150.0 L377.6,146.1 L378.0,135.7 L378.2,141.8 L378.8,149.6 L379.0,159.2 L379.3,159.7 L379.9,158.2 L380.4,164.1 L380.9,167.2 L381.5,158.8 L382.1,166.3 L382.1,160.0 L382.6,139.0 L383.1,120.6 L383.1,122.2 L383.7,145.1 L384.1,156.9 L384.2,158.8 L384.8,153.1 L385.4,155.6 L385.9,152.4 L386.4,151.6 L387.0,161.4 L387.6,164.0 L388.0,173.0 L388.1,172.3 L388.6,157.4 L389.0,156.3 L389.2,166.7 L389.8,164.6 L390.3,166.7 L390.9,158.8 L391.1,156.5 L391.4,152.0 L391.9,125.1 L392.1,117.8 L392.5,131.0 L393.1,153.9 L393.1,157.0 L393.6,149.8 L394.1,136.4 L394.1,137.9 L394.7,151.1 L395.1,149.0 L395.2,167.8 L395.8,165.7 L396.4,156.0 L396.9,157.0 L397.4,148.6 L398.0,151.5 L398.6,152.9 L399.0,145.4 L399.1,149.3 L399.6,168.5 L400.0,174.0 L400.2,171.9 L400.8,169.0 L401.0,156.5 L401.1,165.2 L401.3,147.3 L401.9,117.1 L402.1,106.0 L402.4,123.8 L402.9,146.3 L403.1,159.2 L403.5,149.5 L404.1,161.0 L404.6,162.9 L405.1,162.9 L405.7,160.3 L406.0,155.5 L406.2,154.0 L406.8,136.8 L407.0,131.6 L407.4,143.1 L407.9,152.3 L408.0,150.7 L408.4,164.4 L409.0,158.7 L409.6,151.8 L409.7,157.7 L410.1,141.2 L410.6,114.3 L410.7,112.3 L411.2,130.8 L411.7,151.4 L411.8,154.2 L412.3,156.2 L412.5,155.0 L412.9,149.9 L413.4,141.4 L413.5,139.9 L413.9,143.7 L414.5,154.5 L415.1,152.0 L415.6,163.3 L416.1,152.5 L416.7,156.0 L417.2,163.5 L417.8,156.9 L418.4,149.5 L418.7,163.8 L418.9,152.0 L419.4,128.6 L419.7,120.6 L420.0,132.0 L420.6,154.5 L420.7,163.9 L421.1,149.8 L421.6,159.0 L422.2,150.1 L422.8,157.5 L423.3,149.3 L423.9,161.0 L423.9,166.0 L424.4,141.6 L424.9,128.1 L424.9,129.8 L425.5,145.5 L425.9,149.3 L426.1,152.9 L426.6,150.9 L427.1,166.5 L427.7,165.5 L428.2,167.3 L428.8,156.6 L429.0,159.2 L429.4,152.4 L429.9,129.2 L430.0,126.8 L430.4,139.0 L431.0,153.4 L431.6,167.2 L432.1,151.1 L432.6,152.1 L433.2,152.8 L433.8,148.2 L434.0,162.3 L434.3,168.4 L434.9,171.8 L435.0,174.0 L435.4,169.8 L435.9,165.4 L436.0,156.6 L436.5,157.0 L437.1,153.3 L437.3,157.1 L437.6,147.6 L438.1,122.2 L438.3,114.3 L438.7,130.2 L439.2,149.4 L439.3,167.4 L439.8,154.8 L440.4,154.5 L440.9,158.7 L441.4,154.9 L442.0,153.4" fill="none" stroke="#7f7f7f" stroke-width="2.2" stroke-linejoin="round" stroke-linecap="round"/>
<path d="M357.3,194.6 L357.9,200.4 L358.4,193.9 L358.9,198.8 L359.5,198.7 L360.1,198.8 L360.6,200.7 L361.1,194.4 L361.7,198.8 L362.2,196.7 L362.8,193.9 L363.4,198.8 L363.9,195.7 L364.4,195.7 L365.0,200.0 L365.6,200.0 L366.1,193.8 L366.6,194.3 L367.2,199.5 L367.8,200.4 L368.3,198.9 L368.9,200.0 L369.4,194.5 L369.9,194.6 L370.5,200.7 L371.1,194.6 L371.6,199.1 L372.1,197.3 L372.7,195.3 L373.2,198.1 L373.8,199.4 L374.4,196.5 L374.9,195.2 L375.4,195.0 L376.0,200.0 L376.6,195.4 L377.1,196.8 L377.6,195.9 L378.2,193.6 L378.8,200.5 L379.3,197.4 L379.9,197.7 L380.4,195.0 L380.9,195.8 L381.5,200.3 L382.1,199.2 L382.6,195.4 L383.1,197.5 L383.7,198.2 L384.2,200.0 L384.8,199.2 L385.4,196.0 L385.9,193.5 L386.4,196.9 L387.0,199.8 L387.6,197.4 L388.1,196.8 L388.6,195.0 L389.2,193.8 L389.8,200.2 L390.3,193.8 L390.9,200.0 L391.4,194.8 L391.9,194.8 L392.5,199.5 L393.1,197.2 L393.6,198.4 L394.1,196.9 L394.7,201.0 L395.2,199.6 L395.8,194.9 L396.4,194.9 L396.9,195.6 L397.4,199.8 L398.0,195.4 L398.6,196.0 L399.1,200.7 L399.6,195.5 L400.2,195.1 L400.8,200.6 L401.3,196.1 L401.9,199.1 L402.4,193.9 L402.9,195.1 L403.5,195.2 L404.1,195.5 L404.6,199.2 L405.1,195.5 L405.7,200.7 L406.2,197.7 L406.8,198.4 L407.4,197.8 L407.9,195.3 L408.4,199.5 L409.0,196.1 L409.6,194.5 L410.1,196.3 L410.6,197.0 L411.2,194.4 L411.8,197.5 L412.3,195.9 L412.9,199.3 L413.4,196.3 L413.9,195.3 L414.5,195.2 L415.1,195.0 L415.6,200.3 L416.1,197.5 L416.7,194.8 L417.2,197.6 L417.8,194.9 L418.4,199.8 L418.9,200.4 L419.4,194.5 L420.0,197.5 L420.6,197.3 L421.1,200.6 L421.6,199.0 L422.2,194.4 L422.8,198.4 L423.3,195.0 L423.9,198.2 L424.4,195.2 L424.9,195.3 L425.5,195.6 L426.1,197.3 L426.6,197.8 L427.1,196.2 L427.7,198.8 L428.2,195.8 L428.8,199.5 L429.4,194.1 L429.9,197.9 L430.4,197.5 L431.0,199.3 L431.6,199.8 L432.1,198.1 L432.6,195.3 L433.2,199.6 L433.8,198.4 L434.3,198.7 L434.9,197.0 L435.4,195.5 L435.9,200.5 L436.5,199.6 L437.1,195.5 L437.6,197.1 L438.1,197.6 L438.7,199.2 L439.2,197.7 L439.8,194.7 L440.4,199.1 L440.9,193.8 L441.4,200.4 L442.0,196.0" fill="none" stroke="#c55a11" stroke-width="2.2" stroke-linejoin="round" stroke-linecap="round"/>
<path d="M357.3,224.6 L357.8,233.9 L358.0,234.3 L358.6,232.3 L358.7,231.4 L359.4,222.7 L359.6,220.6 L360.1,227.1 L360.6,231.7 L360.8,232.8 L361.0,234.2 L361.4,234.0 L361.5,233.0 L362.0,236.0 L362.2,233.0 L362.4,229.7 L362.9,227.7 L363.0,227.7 L363.4,231.8 L363.6,231.3 L364.3,233.7 L365.0,232.3 L365.7,234.0 L366.2,231.2 L366.4,228.4 L367.1,215.4 L367.2,213.7 L367.8,224.7 L368.2,231.0 L368.5,232.7 L369.0,234.2 L369.2,229.7 L369.9,223.2 L370.0,222.7 L370.6,228.0 L371.0,233.4 L371.3,233.6 L371.7,233.4 L372.0,229.8 L372.7,224.9 L372.7,224.7 L373.4,229.1 L373.7,234.4 L374.1,233.8 L374.8,231.7 L375.5,233.3 L376.1,234.2 L376.2,233.0 L376.9,219.1 L377.1,214.4 L377.6,223.3 L378.1,231.8 L378.3,234.0 L378.6,233.4 L379.0,228.2 L379.6,230.5 L379.7,232.0 L380.0,236.5 L380.4,234.4 L380.6,233.6 L380.7,233.6 L381.0,228.1 L381.1,227.0 L381.7,219.9 L381.8,221.0 L382.5,229.4 L382.7,233.3 L383.2,231.9 L383.9,232.5 L383.9,233.1 L384.6,214.8 L384.9,208.2 L385.3,219.0 L385.9,231.8 L386.0,233.3 L386.7,231.0 L387.2,232.6 L387.4,228.2 L388.1,219.2 L388.2,217.8 L388.8,227.0 L389.2,233.8 L389.5,231.3 L390.2,232.4 L390.9,234.4 L391.6,234.3 L391.8,234.4 L392.3,224.8 L392.8,218.5 L393.0,221.9 L393.7,230.8 L393.8,231.7 L394.4,233.3 L395.1,231.6 L395.2,234.3 L395.8,228.3 L396.2,226.1 L396.5,228.0 L397.0,231.6 L397.2,232.5 L397.9,235.3 L398.0,235.5 L398.6,232.7 L399.0,234.0 L399.3,233.8 L400.0,231.3 L400.7,231.3 L401.4,233.7 L401.4,232.6 L402.1,220.8 L402.4,215.1 L402.8,221.3 L403.4,232.5 L403.5,232.4 L404.2,231.2 L404.9,233.4 L404.9,230.7 L405.6,221.7 L405.9,217.1 L406.3,223.2 L406.9,230.8 L407.0,233.5 L407.6,231.7 L407.7,232.7 L408.4,221.6 L408.6,217.8 L409.1,224.9 L409.6,232.3 L409.8,233.9 L410.4,232.0 L410.5,232.5 L411.2,220.9 L411.4,217.8 L411.9,224.6 L412.4,232.5 L412.6,232.6 L413.3,232.0 L414.0,232.2 L414.5,233.7 L414.7,230.5 L415.4,218.2 L415.5,215.8 L416.1,225.9 L416.5,231.3 L416.8,233.3 L417.5,232.1 L418.0,231.6 L418.2,227.0 L418.9,214.2 L419.0,212.3 L419.0,212.5 L419.6,231.2 L420.0,236.0 L420.0,236.0 L420.3,235.0 L421.0,233.9 L421.4,231.6 L421.7,229.3 L422.4,216.3 L422.4,215.8 L423.1,226.5 L423.4,233.4 L423.5,232.3 L423.8,228.0 L424.5,218.0 L424.5,217.9 L425.2,227.2 L425.5,231.0 L425.9,231.9 L426.6,233.7 L427.3,232.7 L427.4,233.3 L428.0,222.2 L428.4,216.4 L428.7,221.8 L429.4,231.6 L429.4,232.0 L430.1,233.0 L430.8,231.3 L431.5,232.9 L431.8,230.8 L432.2,225.0 L432.8,213.7 L432.9,215.5 L433.6,228.2 L433.8,233.5 L434.3,231.1 L434.6,233.9 L435.0,228.9 L435.6,224.7 L435.7,226.0 L436.4,230.9 L436.6,233.6 L437.0,233.9 L437.1,231.8 L437.8,236.0 L438.0,236.5 L438.5,235.1 L439.0,231.6 L439.2,232.6 L439.9,233.1 L440.6,233.4 L440.8,234.4 L441.3,226.1 L441.8,220.6 L442.0,223.2" fill="none" stroke="#2f5597" stroke-width="2.0" stroke-linejoin="round" stroke-linecap="round"/>
<path d="M454.0,133.3 L454.8,125.8 L455.5,130.7 L456.1,133.2 L456.4,127.6 L456.7,132.9 L457.5,125.0 L458.2,130.6 L458.8,132.9 L459.1,128.2 L459.4,133.6 L460.2,124.2 L460.9,129.1 L461.5,132.6 L461.8,127.3 L462.1,132.7 L462.9,123.3 L463.6,129.0 L464.2,132.4 L464.5,126.9 L464.8,133.1 L465.6,123.2 L466.3,129.8 L466.9,132.2 L467.2,126.7 L467.5,132.5 L468.3,122.8 L469.0,128.5 L469.6,132.0 L469.9,126.9 L470.2,131.9 L471.0,121.1 L471.7,128.9 L472.3,131.8 L472.6,126.5 L472.9,132.5 L473.7,121.0 L474.4,128.8 L475.0,131.6 L475.3,126.4 L475.6,132.3 L476.4,121.2 L477.1,128.3 L477.7,131.3 L478.0,127.2 L478.3,131.3 L479.1,118.7 L479.8,127.5 L480.4,131.1 L480.7,127.0 L481.0,131.6 L481.8,119.8 L482.5,127.5 L483.1,130.9 L483.4,125.9 L483.7,130.8 L484.5,119.8 L485.2,126.9 L485.8,130.7 L486.1,124.8 L486.4,131.3 L487.2,118.2 L487.9,127.6 L488.5,130.5 L488.8,125.3 L489.1,130.3 L489.9,117.7 L490.6,128.1 L491.2,130.2 L491.5,124.9 L491.8,130.2 L492.6,116.4 L493.3,127.5 L493.9,129.9 L494.2,124.5 L494.5,129.9 L495.3,117.4 L496.0,126.5 L496.6,129.6 L496.9,123.7 L497.2,130.1 L498.0,116.7 L498.7,126.2 L499.3,129.3 L499.6,123.5 L499.9,129.4 L500.7,115.1 L501.4,126.7 L502.0,129.0 L502.3,124.9 L502.6,129.0 L503.4,115.1 L504.1,124.8 L504.7,128.7 L505.0,124.5 L505.3,128.6 L506.1,114.9 L506.8,125.4 L507.4,128.4 L507.7,123.4 L508.0,128.2 L508.8,114.4 L509.5,124.3 L510.1,128.1 L510.4,123.8 L510.7,128.3 L511.5,112.7 L512.2,125.4 L512.8,127.9 L513.1,123.0 L513.4,127.8 L514.2,112.5 L514.9,123.7 L515.5,127.6 L515.8,121.6 L516.1,127.9 L516.9,111.3 L517.6,124.0 L518.2,127.3 L518.5,122.0 L518.8,127.7 L519.6,111.6 L520.3,124.2 L520.9,127.0 L521.2,121.6 L521.5,127.5 L522.3,111.7 L523.0,124.5 L523.6,126.7 L523.9,122.5 L524.2,127.1 L525.0,109.4 L525.7,123.2 L526.3,126.5 L526.6,121.2 L526.9,126.3 L527.7,110.2 L528.4,122.7 L529.0,126.2 L529.3,122.2 L529.6,126.8 L530.4,109.4 L531.1,123.3 L531.7,125.9 L532.0,120.5 L532.3,126.2 L533.1,108.9 L533.8,123.0 L534.4,125.6 L534.7,120.3 L535.0,125.5 L535.8,107.9 L536.5,123.1 L537.1,125.4 L537.4,120.8 L537.7,125.9 L538.5,107.7 L539.2,122.2 L539.8,125.1 L540.1,119.8" fill="none" stroke="#7f7f7f" stroke-width="1.9" stroke-linejoin="round" stroke-linecap="round"/>
<path d="M453.5,204.7 L454.2,202.3 L454.9,201.5 L455.6,205.0 L456.3,203.1 L457.0,203.7 L457.7,204.7 L458.4,203.5 L459.1,204.8 L459.8,202.3 L460.5,201.9 L461.2,205.2 L461.9,203.9 L462.6,203.2 L463.3,203.4 L464.0,202.0 L464.7,202.1 L465.4,205.0 L466.1,204.9 L466.8,202.7 L467.5,203.4 L468.2,203.7 L468.9,201.9 L469.6,204.9 L470.3,203.4 L471.0,204.9 L471.7,203.7 L472.4,202.8 L473.1,202.1 L473.8,202.5 L474.5,205.4 L475.2,204.8 L475.9,205.7 L476.6,203.5 L477.3,204.4 L478.0,204.1 L478.7,204.0 L479.2,203.8 L479.4,202.6 L480.0,200.0 L480.1,200.5 L480.8,205.1 L481.5,204.5 L482.2,203.1 L482.9,203.1 L483.6,202.7 L484.3,202.3 L485.0,204.2 L485.7,203.3 L486.4,205.8 L487.1,203.8 L487.8,205.9 L488.5,203.7 L489.2,203.4 L489.9,205.1 L490.6,203.3 L491.3,205.9 L492.0,203.2 L492.7,203.7 L493.4,203.2 L494.1,205.3 L494.8,205.1 L495.5,203.6 L496.2,205.6 L496.9,205.9 L497.6,203.7 L498.3,202.5 L499.0,203.8 L499.7,203.9 L500.4,204.5 L501.1,204.0 L501.8,204.6 L502.5,206.3 L503.2,205.6 L503.9,202.9 L504.6,203.2 L505.3,204.8 L506.0,203.4 L506.7,205.6 L507.4,206.2 L508.1,206.7 L508.8,206.3 L509.5,206.7 L510.2,203.4 L510.9,203.0 L511.6,205.6 L512.3,203.1 L513.0,206.6 L513.7,206.7 L514.4,204.9 L515.1,205.5 L515.8,204.1 L516.5,204.5 L517.2,204.5 L517.9,204.3 L518.6,206.6 L519.3,203.8 L520.0,205.1 L520.7,205.6 L521.4,206.7 L522.1,206.3 L522.8,203.8 L523.5,204.9 L524.2,207.0 L524.9,205.1 L525.6,203.9 L526.3,204.0 L527.0,205.0 L527.7,206.1 L528.4,206.2 L529.1,206.6 L529.8,206.7 L530.5,207.1 L531.2,204.8 L531.9,203.5 L532.6,204.0 L533.3,206.6 L534.0,204.2 L534.7,204.9 L535.4,207.1 L536.1,203.7 L536.8,206.9 L537.5,205.8 L538.2,204.7" fill="none" stroke="#c55a11" stroke-width="1.9" stroke-linejoin="round" stroke-linecap="round"/>
<path d="M453.5,227.8 L453.6,226.7 L454.3,234.3 L454.4,236.1 L455.1,235.5 L455.9,235.7 L456.7,236.1 L457.4,235.7 L457.5,235.5 L458.3,226.2 L459.1,234.7 L459.1,235.5 L459.9,235.4 L460.7,235.3 L461.5,235.4 L462.1,235.3 L462.3,234.4 L463.0,226.2 L463.1,227.3 L463.9,235.5 L463.9,235.8 L464.7,236.1 L465.5,236.0 L466.3,235.9 L467.1,236.2 L467.6,235.7 L467.9,233.0 L468.5,225.9 L468.7,228.1 L469.4,236.0 L469.5,235.4 L470.3,235.4 L471.1,235.2 L471.9,235.8 L472.7,236.1 L473.1,235.6 L473.5,232.0 L474.0,227.4 L474.3,230.4 L474.9,235.4 L475.1,236.3 L475.9,235.4 L476.7,235.9 L477.5,235.6 L478.3,236.2 L479.1,235.3 L479.6,235.3 L479.9,231.8 L480.4,225.7 L480.7,229.1 L481.2,236.2 L481.5,235.6 L482.3,235.7 L483.1,235.8 L483.9,236.2 L484.7,236.0 L485.5,236.3 L485.6,235.4 L486.3,227.8 L486.4,226.7 L487.1,233.9 L487.2,235.4 L487.9,235.5 L488.7,235.8 L489.5,236.1 L490.3,235.4 L491.1,235.9 L491.9,236.2 L492.7,235.9 L493.5,235.6 L494.3,235.5 L495.1,236.1 L495.9,235.9 L496.7,235.3 L497.5,235.3 L498.3,235.7 L499.1,235.9 L499.4,236.2 L499.9,229.5 L500.2,226.2 L500.7,231.8 L501.1,235.4 L501.5,235.3 L502.3,235.9 L503.1,235.5 L503.9,236.1 L504.7,235.6 L505.5,235.7 L506.3,236.1 L507.1,235.3 L507.6,235.6 L507.9,232.6 L508.5,226.2 L508.7,228.4 L509.4,235.6 L509.5,235.6 L510.3,235.5 L511.1,235.5 L511.9,235.8 L511.9,234.9 L512.7,225.8 L513.5,235.2 L513.5,235.3 L514.3,235.5 L515.1,235.4 L515.9,236.3 L516.7,236.2 L517.4,235.6 L517.5,234.3 L518.2,227.4 L518.3,228.5 L519.0,236.3 L519.1,236.3 L519.9,235.5 L520.7,236.2 L521.5,235.5 L522.3,235.3 L522.9,235.5 L523.1,233.2 L523.7,227.2 L523.9,229.2 L524.5,235.8 L524.7,235.9 L525.5,235.8 L526.3,235.6 L527.1,236.2 L527.9,236.1 L528.7,235.9 L529.5,236.0 L529.8,235.3 L530.3,229.6 L530.6,226.3 L531.1,231.7 L531.5,235.5 L531.9,235.5 L532.7,235.9 L533.5,235.2 L534.3,235.8 L535.1,236.0 L535.4,235.8 L535.9,229.8 L536.2,226.6 L536.7,232.2 L537.0,235.5 L537.5,235.7 L538.3,235.5" fill="none" stroke="#2f5597" stroke-width="1.8" stroke-linejoin="round" stroke-linecap="round"/>
<path d="M550.0,123.5 L550.9,123.8 L551.8,123.9 L552.7,124.0 L553.6,124.1 L554.5,124.5 L555.4,124.0 L556.3,124.7 L557.2,123.9 L558.1,124.3 L559.0,124.4 L559.9,124.2 L560.8,125.1 L561.7,124.6 L562.6,125.3 L563.5,125.5 L564.4,124.5 L565.3,125.4 L566.2,125.3 L567.1,125.1 L568.0,124.2 L568.9,124.8 L569.8,125.0 L570.7,124.5 L571.6,124.4 L572.5,124.5 L573.4,124.4 L574.3,125.1 L575.2,124.4 L576.1,124.5 L577.0,124.8 L577.9,125.2 L578.8,124.2 L579.7,123.8 L580.6,125.1 L581.5,124.9 L582.4,124.8 L583.3,124.4 L584.2,124.0 L585.1,123.9 L586.0,124.1 L586.9,124.4 L587.8,123.9 L588.7,124.8 L589.6,124.9 L590.5,123.9 L591.4,125.1 L592.3,124.7 L593.2,125.4 L594.1,124.8 L595.0,125.4 L595.9,125.0 L596.8,125.3 L597.7,125.3 L598.6,124.7 L599.5,125.0 L600.4,125.3 L601.3,125.6 L602.2,125.7 L603.1,126.1 L604.0,126.4 L604.9,126.2 L605.8,126.2 L606.7,126.6 L607.6,127.3 L608.5,127.2 L609.4,127.2 L610.3,127.5 L611.2,126.8 L612.1,126.7 L613.0,126.8 L613.9,127.0 L614.8,126.9 L615.7,127.9 L616.6,128.3 L617.5,127.3 L618.4,128.2 L619.3,128.6 L620.2,128.4 L621.1,127.5 L622.0,128.3 L622.9,127.7 L623.8,127.6 L624.7,127.4 L625.6,128.1 L626.5,128.7 L627.4,127.5 L628.3,127.6 L629.2,127.9 L630.1,127.4 L631.0,127.9 L631.9,128.3 L632.8,127.9 L633.7,127.2 L634.6,127.2" fill="none" stroke="#7f7f7f" stroke-width="1.8" stroke-linejoin="round" stroke-linecap="round"/>
<path d="M550.0,210.9 L550.9,210.3 L551.8,210.3 L552.7,210.8 L553.6,210.2 L554.5,211.1 L555.4,211.1 L556.3,210.3 L557.2,211.0 L558.1,210.8 L559.0,210.9 L559.9,211.3 L560.8,211.2 L561.7,210.5 L562.6,210.9 L563.5,210.8 L564.4,210.9 L565.3,209.6 L566.2,210.6 L567.1,209.6 L568.0,209.4 L568.9,209.8 L569.8,210.0 L570.7,210.0 L571.6,209.1 L572.5,209.6 L573.4,208.5 L574.3,209.5 L575.2,208.6 L576.1,208.8 L577.0,208.2 L577.9,208.1 L578.8,208.0 L579.7,208.7 L580.6,208.6 L581.5,208.9 L582.4,208.9 L583.3,208.4 L584.2,209.0 L585.1,208.2 L586.0,209.1 L586.9,208.4 L587.8,209.2 L588.7,208.6 L589.6,208.7 L590.5,208.8 L591.4,208.3 L592.3,208.4 L593.2,209.0 L594.1,209.2 L595.0,208.4 L595.9,208.8 L596.8,208.7 L597.7,209.2 L598.6,209.4 L599.5,208.2 L600.4,208.7 L601.3,208.1 L602.2,208.8 L603.1,208.9 L604.0,208.5 L604.9,208.2 L605.8,207.4 L606.7,207.4 L607.6,207.4 L608.5,207.1 L609.4,207.0 L610.3,207.9 L611.2,207.0 L612.1,207.6 L613.0,207.3 L613.9,207.2 L614.8,207.3 L615.7,207.0 L616.6,206.5 L617.5,206.6 L618.4,206.5 L619.3,206.1 L620.2,206.1 L621.1,206.7 L622.0,206.7 L622.9,207.2 L623.8,206.9 L624.7,207.1 L625.6,206.8 L626.5,206.9 L627.4,207.3 L628.3,206.4 L629.2,206.4 L630.1,206.9 L631.0,206.8 L631.9,206.9 L632.8,206.5 L633.7,206.6 L634.6,206.5" fill="none" stroke="#c55a11" stroke-width="1.9" stroke-linejoin="round" stroke-linecap="round"/>
<path d="M550.0,234.3 L550.8,234.1 L551.6,233.2 L552.4,233.8 L553.2,233.5 L554.0,233.6 L554.6,233.9 L554.8,232.7 L555.5,227.0 L555.6,227.7 L556.4,233.7 L556.4,233.4 L557.2,233.2 L558.0,233.7 L558.8,233.2 L559.6,233.7 L559.6,233.1 L560.4,228.1 L560.5,227.5 L561.2,232.5 L561.4,232.9 L562.0,233.1 L562.8,233.5 L563.6,232.6 L564.4,232.6 L564.4,232.2 L565.2,226.0 L566.0,232.5 L566.0,232.5 L566.8,232.9 L567.6,232.9 L568.4,232.5 L569.0,232.3 L569.2,231.5 L569.9,227.6 L570.0,228.2 L570.8,232.1 L570.8,232.4 L571.6,232.3 L572.4,232.5 L573.2,232.2 L574.0,232.3 L574.0,232.5 L574.8,225.9 L575.6,232.2 L575.6,232.7 L576.4,232.1 L577.2,232.2 L578.0,232.3 L578.8,231.9 L579.5,232.0 L579.6,231.4 L580.4,226.3 L581.2,231.6 L581.2,231.6 L582.0,231.9 L582.8,232.1 L583.6,231.7 L584.4,231.4 L585.2,231.8 L586.0,231.9 L586.5,231.8 L586.8,229.5 L587.3,226.6 L587.6,228.3 L588.1,231.5 L588.4,231.7 L589.2,231.4 L590.0,231.9 L590.8,231.5 L591.6,230.9 L592.4,231.0 L593.2,231.2 L593.4,231.3 L594.0,226.4 L594.2,224.8 L594.8,229.6 L595.0,230.7 L595.6,231.5 L596.4,231.5 L597.2,231.4 L598.0,231.0 L598.8,230.5 L598.9,231.2 L599.6,226.3 L599.7,225.8 L600.4,230.1 L600.5,230.7 L601.2,231.2 L602.0,230.7 L602.8,230.6 L603.6,230.3 L603.9,230.9 L604.4,227.1 L604.7,225.1 L605.2,228.4 L605.5,231.0 L606.0,230.4 L606.8,230.1 L607.6,230.8 L608.4,230.7 L609.2,230.6 L609.9,230.2 L610.0,229.1 L610.7,224.6 L610.8,225.2 L611.5,230.1 L611.6,229.8 L612.4,230.3 L613.2,230.1 L614.0,230.2 L614.8,230.4 L615.5,229.6 L615.6,228.8 L616.3,224.6 L616.4,225.2 L617.1,230.1 L617.2,229.6 L618.0,229.8 L618.8,229.7 L619.6,229.8 L620.4,229.7 L621.0,229.9 L621.2,228.2 L621.8,224.2 L622.0,225.5 L622.6,230.0 L622.8,229.8 L623.6,229.3 L624.4,229.7 L625.2,228.9 L626.0,229.5 L626.5,229.3 L626.8,227.3 L627.3,224.1 L627.6,225.9 L628.1,229.0 L628.4,228.8 L629.2,229.2 L630.0,229.3 L630.8,229.3 L631.6,228.8 L632.0,228.9 L632.4,225.4 L632.8,222.2 L633.2,225.4 L633.6,229.0 L634.0,229.3 L634.8,229.2" fill="none" stroke="#2f5597" stroke-width="1.8" stroke-linejoin="round" stroke-linecap="round"/>
</g>
<text x="163" y="356.1" font-size="14" text-anchor="middle" textLength="171" lengthAdjust="spacingAndGlyphs" fill="#333333" stroke="#333333" stroke-width="0.10">MCA ± SCV - Colon (long)</text>
<polygon points="107.80,379.35 111.30,385.65 104.30,385.65" fill="#4472c4"/>
<text x="115.6" y="386.6" font-size="12" textLength="22.4" lengthAdjust="spacingAndGlyphs" fill="#333333" stroke="#333333" stroke-width="0.10">OEE</text>
<rect x="150.05" y="378.95" width="6.5" height="6.5" fill="#7f7f7f"/>
<text x="160.4" y="386.6" font-size="12" textLength="22.4" lengthAdjust="spacingAndGlyphs" fill="#333333" stroke="#333333" stroke-width="0.10">HSE</text>
<circle cx="197.50" cy="382.20" r="3.4" fill="#c55a11"/>
<text x="205" y="386.6" font-size="12" textLength="21" lengthAdjust="spacingAndGlyphs" fill="#333333" stroke="#333333" stroke-width="0.10">HM</text>
<line x1="67" y1="627.5" x2="320" y2="627.5" stroke="#d9d9d9" stroke-width="1"/>
<text x="53.5" y="632.1" font-size="13" text-anchor="end" textLength="24.5" lengthAdjust="spacingAndGlyphs" fill="#333333" stroke="#333333" stroke-width="0.10">0.00</text>
<line x1="67" y1="603.2333333333333" x2="320" y2="603.2333333333333" stroke="#d9d9d9" stroke-width="1"/>
<text x="53.5" y="607.8333333333334" font-size="13" text-anchor="end" textLength="24.5" lengthAdjust="spacingAndGlyphs" fill="#333333" stroke="#333333" stroke-width="0.10">0.20</text>
<line x1="67" y1="578.9666666666667" x2="320" y2="578.9666666666667" stroke="#d9d9d9" stroke-width="1"/>
<text x="53.5" y="583.5666666666667" font-size="13" text-anchor="end" textLength="24.5" lengthAdjust="spacingAndGlyphs" fill="#333333" stroke="#333333" stroke-width="0.10">0.40</text>
<line x1="67" y1="554.7" x2="320" y2="554.7" stroke="#d9d9d9" stroke-width="1"/>
<text x="53.5" y="559.3000000000001" font-size="13" text-anchor="end" textLength="24.5" lengthAdjust="spacingAndGlyphs" fill="#333333" stroke="#333333" stroke-width="0.10">0.60</text>
<line x1="67" y1="530.4333333333334" x2="320" y2="530.4333333333334" stroke="#d9d9d9" stroke-width="1"/>
<text x="53.5" y="535.0333333333334" font-size="13" text-anchor="end" textLength="24.5" lengthAdjust="spacingAndGlyphs" fill="#333333" stroke="#333333" stroke-width="0.10">0.80</text>
<line x1="67" y1="506.1666666666667" x2="320" y2="506.1666666666667" stroke="#d9d9d9" stroke-width="1"/>
<text x="53.5" y="510.7666666666667" font-size="13" text-anchor="end" textLength="24.5" lengthAdjust="spacingAndGlyphs" fill="#333333" stroke="#333333" stroke-width="0.10">1.00</text>
<line x1="67" y1="481.9" x2="320" y2="481.9" stroke="#d9d9d9" stroke-width="1"/>
<text x="53.5" y="486.5" font-size="13" text-anchor="end" textLength="24.5" lengthAdjust="spacingAndGlyphs" fill="#333333" stroke="#333333" stroke-width="0.10">1.20</text>
<line x1="67" y1="457.6333333333333" x2="320" y2="457.6333333333333" stroke="#d9d9d9" stroke-width="1"/>
<text x="53.5" y="462.23333333333335" font-size="13" text-anchor="end" textLength="24.5" lengthAdjust="spacingAndGlyphs" fill="#333333" stroke="#333333" stroke-width="0.10">1.40</text>
<line x1="67" y1="433.3666666666667" x2="320" y2="433.3666666666667" stroke="#d9d9d9" stroke-width="1"/>
<text x="53.5" y="437.9666666666667" font-size="13" text-anchor="end" textLength="24.5" lengthAdjust="spacingAndGlyphs" fill="#333333" stroke="#333333" stroke-width="0.10">1.60</text>
<line x1="67" y1="409.1" x2="320" y2="409.1" stroke="#d9d9d9" stroke-width="1"/>
<text x="53.5" y="413.70000000000005" font-size="13" text-anchor="end" textLength="24.5" lengthAdjust="spacingAndGlyphs" fill="#333333" stroke="#333333" stroke-width="0.10">1.80</text>
<text x="0" y="0" transform="translate(19.8,518.2) rotate(-90)" font-size="11.5" text-anchor="middle" textLength="86.5" lengthAdjust="spacingAndGlyphs" fill="#333333" stroke="#333333" stroke-width="0.12">Contraction (g)</text>
<text x="88.08333333333333" y="646.3" font-size="10" text-anchor="middle" textLength="18.5" lengthAdjust="spacingAndGlyphs" fill="#333333" stroke="#333333" stroke-width="0.12">CTR</text>
<text x="130.25" y="646.3" font-size="10" text-anchor="middle" fill="#333333" stroke="#333333" stroke-width="0.12">0.1</text>
<text x="130.25" y="661.1" font-size="10" text-anchor="middle" textLength="34" lengthAdjust="spacingAndGlyphs" fill="#333333" stroke="#333333" stroke-width="0.12">mg/mL</text>
<text x="172.41666666666666" y="646.3" font-size="10" text-anchor="middle" fill="#333333" stroke="#333333" stroke-width="0.12">0.5</text>
<text x="172.41666666666666" y="661.1" font-size="10" text-anchor="middle" textLength="34" lengthAdjust="spacingAndGlyphs" fill="#333333" stroke="#333333" stroke-width="0.12">mg/mL</text>
<text x="214.58333333333331" y="646.3" font-size="10" text-anchor="middle" fill="#333333" stroke="#333333" stroke-width="0.12">1.0</text>
<text x="214.58333333333331" y="661.1" font-size="10" text-anchor="middle" textLength="34" lengthAdjust="spacingAndGlyphs" fill="#333333" stroke="#333333" stroke-width="0.12">mg/mL</text>
<text x="256.75" y="646.3" font-size="10" text-anchor="middle" fill="#333333" stroke="#333333" stroke-width="0.12">5.0</text>
<text x="256.75" y="661.1" font-size="10" text-anchor="middle" textLength="34" lengthAdjust="spacingAndGlyphs" fill="#333333" stroke="#333333" stroke-width="0.12">mg/mL</text>
<text x="298.91666666666663" y="646.3" font-size="10" text-anchor="middle" fill="#333333" stroke="#333333" stroke-width="0.12">10.0</text>
<text x="298.91666666666663" y="661.1" font-size="10" text-anchor="middle" textLength="34" lengthAdjust="spacingAndGlyphs" fill="#333333" stroke="#333333" stroke-width="0.12">mg/mL</text>
<line x1="88.08333333333333" y1="464.5493333333334" x2="88.08333333333333" y2="475.83333333333337" stroke="#7a7a7a" stroke-width="1"/>
<line x1="85.78333333333333" y1="464.5493333333334" x2="90.38333333333333" y2="464.5493333333334" stroke="#7a7a7a" stroke-width="1"/>
<line x1="85.78333333333333" y1="475.83333333333337" x2="90.38333333333333" y2="475.83333333333337" stroke="#7a7a7a" stroke-width="1"/>
<line x1="88.08333333333333" y1="510.0493333333334" x2="88.08333333333333" y2="524.488" stroke="#7a7a7a" stroke-width="1"/>
<line x1="85.78333333333333" y1="510.0493333333334" x2="90.38333333333333" y2="510.0493333333334" stroke="#7a7a7a" stroke-width="1"/>
<line x1="85.78333333333333" y1="524.488" x2="90.38333333333333" y2="524.488" stroke="#7a7a7a" stroke-width="1"/>
<line x1="88.08333333333333" y1="566.8333333333334" x2="88.08333333333333" y2="576.54" stroke="#7a7a7a" stroke-width="1"/>
<line x1="85.78333333333333" y1="566.8333333333334" x2="90.38333333333333" y2="566.8333333333334" stroke="#7a7a7a" stroke-width="1"/>
<line x1="85.78333333333333" y1="576.54" x2="90.38333333333333" y2="576.54" stroke="#7a7a7a" stroke-width="1"/>
<line x1="130.25" y1="452.29466666666667" x2="130.25" y2="468.432" stroke="#7a7a7a" stroke-width="1"/>
<line x1="127.95" y1="452.29466666666667" x2="132.55" y2="452.29466666666667" stroke="#7a7a7a" stroke-width="1"/>
<line x1="127.95" y1="468.432" x2="132.55" y2="468.432" stroke="#7a7a7a" stroke-width="1"/>
<line x1="130.25" y1="519.6346666666667" x2="130.25" y2="532.2533333333333" stroke="#7a7a7a" stroke-width="1"/>
<line x1="127.95" y1="519.6346666666667" x2="132.55" y2="519.6346666666667" stroke="#7a7a7a" stroke-width="1"/>
<line x1="127.95" y1="532.2533333333333" x2="132.55" y2="532.2533333333333" stroke="#7a7a7a" stroke-width="1"/>
<line x1="130.25" y1="568.0466666666666" x2="130.25" y2="585.0333333333333" stroke="#7a7a7a" stroke-width="1"/>
<line x1="127.95" y1="568.0466666666666" x2="132.55" y2="568.0466666666666" stroke="#7a7a7a" stroke-width="1"/>
<line x1="127.95" y1="585.0333333333333" x2="132.55" y2="585.0333333333333" stroke="#7a7a7a" stroke-width="1"/>
<line x1="172.41666666666666" y1="451.44533333333334" x2="172.41666666666666" y2="477.0466666666667" stroke="#7a7a7a" stroke-width="1"/>
<line x1="170.11666666666665" y1="451.44533333333334" x2="174.71666666666667" y2="451.44533333333334" stroke="#7a7a7a" stroke-width="1"/>
<line x1="170.11666666666665" y1="477.0466666666667" x2="174.71666666666667" y2="477.0466666666667" stroke="#7a7a7a" stroke-width="1"/>
<line x1="172.41666666666666" y1="534.0733333333334" x2="172.41666666666666" y2="541.1106666666667" stroke="#7a7a7a" stroke-width="1"/>
<line x1="170.11666666666665" y1="534.0733333333334" x2="174.71666666666667" y2="534.0733333333334" stroke="#7a7a7a" stroke-width="1"/>
<line x1="170.11666666666665" y1="541.1106666666667" x2="174.71666666666667" y2="541.1106666666667" stroke="#7a7a7a" stroke-width="1"/>
<line x1="172.41666666666666" y1="570.4733333333334" x2="172.41666666666666" y2="591.1" stroke="#7a7a7a" stroke-width="1"/>
<line x1="170.11666666666665" y1="570.4733333333334" x2="174.71666666666667" y2="570.4733333333334" stroke="#7a7a7a" stroke-width="1"/>
<line x1="170.11666666666665" y1="591.1" x2="174.71666666666667" y2="591.1" stroke="#7a7a7a" stroke-width="1"/>
<line x1="214.58333333333331" y1="489.18000000000006" x2="214.58333333333331" y2="519.5133333333333" stroke="#7a7a7a" stroke-width="1"/>
<line x1="212.2833333333333" y1="489.18000000000006" x2="216.88333333333333" y2="489.18000000000006" stroke="#7a7a7a" stroke-width="1"/>
<line x1="212.2833333333333" y1="519.5133333333333" x2="216.88333333333333" y2="519.5133333333333" stroke="#7a7a7a" stroke-width="1"/>
<line x1="214.58333333333331" y1="549.8466666666667" x2="214.58333333333331" y2="552.2733333333333" stroke="#7a7a7a" stroke-width="1"/>
<line x1="212.2833333333333" y1="549.8466666666667" x2="216.88333333333333" y2="549.8466666666667" stroke="#7a7a7a" stroke-width="1"/>
<line x1="212.2833333333333" y1="552.2733333333333" x2="216.88333333333333" y2="552.2733333333333" stroke="#7a7a7a" stroke-width="1"/>
<line x1="214.58333333333331" y1="578.9666666666667" x2="214.58333333333331" y2="592.3133333333334" stroke="#7a7a7a" stroke-width="1"/>
<line x1="212.2833333333333" y1="578.9666666666667" x2="216.88333333333333" y2="578.9666666666667" stroke="#7a7a7a" stroke-width="1"/>
<line x1="212.2833333333333" y1="592.3133333333334" x2="216.88333333333333" y2="592.3133333333334" stroke="#7a7a7a" stroke-width="1"/>
<line x1="256.75" y1="466.12666666666667" x2="256.75" y2="478.26" stroke="#7a7a7a" stroke-width="1"/>
<line x1="254.45" y1="466.12666666666667" x2="259.05" y2="466.12666666666667" stroke="#7a7a7a" stroke-width="1"/>
<line x1="254.45" y1="478.26" x2="259.05" y2="478.26" stroke="#7a7a7a" stroke-width="1"/>
<line x1="256.75" y1="558.34" x2="256.75" y2="559.5533333333333" stroke="#7a7a7a" stroke-width="1"/>
<line x1="254.45" y1="558.34" x2="259.05" y2="558.34" stroke="#7a7a7a" stroke-width="1"/>
<line x1="254.45" y1="559.5533333333333" x2="259.05" y2="559.5533333333333" stroke="#7a7a7a" stroke-width="1"/>
<line x1="256.75" y1="588.6733333333333" x2="256.75" y2="593.5266666666666" stroke="#7a7a7a" stroke-width="1"/>
<line x1="254.45" y1="588.6733333333333" x2="259.05" y2="588.6733333333333" stroke="#7a7a7a" stroke-width="1"/>
<line x1="254.45" y1="593.5266666666666" x2="259.05" y2="593.5266666666666" stroke="#7a7a7a" stroke-width="1"/>
<line x1="298.91666666666663" y1="472.8" x2="298.91666666666663" y2="474.0133333333333" stroke="#7a7a7a" stroke-width="1"/>
<line x1="296.6166666666666" y1="472.8" x2="301.21666666666664" y2="472.8" stroke="#7a7a7a" stroke-width="1"/>
<line x1="296.6166666666666" y1="474.0133333333333" x2="301.21666666666664" y2="474.0133333333333" stroke="#7a7a7a" stroke-width="1"/>
<line x1="298.91666666666663" y1="563.1933333333334" x2="298.91666666666663" y2="564.4066666666666" stroke="#7a7a7a" stroke-width="1"/>
<line x1="296.6166666666666" y1="563.1933333333334" x2="301.21666666666664" y2="563.1933333333334" stroke="#7a7a7a" stroke-width="1"/>
<line x1="296.6166666666666" y1="564.4066666666666" x2="301.21666666666664" y2="564.4066666666666" stroke="#7a7a7a" stroke-width="1"/>
<line x1="298.91666666666663" y1="585.0333333333333" x2="298.91666666666663" y2="589.8866666666667" stroke="#7a7a7a" stroke-width="1"/>
<line x1="296.6166666666666" y1="585.0333333333333" x2="301.21666666666664" y2="585.0333333333333" stroke="#7a7a7a" stroke-width="1"/>
<line x1="296.6166666666666" y1="589.8866666666667" x2="301.21666666666664" y2="589.8866666666667" stroke="#7a7a7a" stroke-width="1"/>
<rect x="84.58" y="466.87" width="7" height="7" fill="#7f7f7f"/>
<circle cx="88.08" cy="517.33" r="3.5" fill="#c55a11"/>
<polygon points="88.08,568.45 91.68,574.93 84.48,574.93" fill="#4472c4"/>
<rect x="126.75" y="456.68" width="7" height="7" fill="#7f7f7f"/>
<circle cx="130.25" cy="526.07" r="3.5" fill="#c55a11"/>
<polygon points="130.25,573.30 133.85,579.78 126.65,579.78" fill="#4472c4"/>
<rect x="168.92" y="460.44" width="7" height="7" fill="#7f7f7f"/>
<circle cx="172.42" cy="537.59" r="3.5" fill="#c55a11"/>
<polygon points="172.42,576.94 176.02,583.42 168.82,583.42" fill="#4472c4"/>
<rect x="211.08" y="500.85" width="7" height="7" fill="#7f7f7f"/>
<circle cx="214.58" cy="551.06" r="3.5" fill="#c55a11"/>
<polygon points="214.58,583.01 218.18,589.49 210.98,589.49" fill="#4472c4"/>
<rect x="253.25" y="468.69" width="7" height="7" fill="#7f7f7f"/>
<circle cx="256.75" cy="558.95" r="3.5" fill="#c55a11"/>
<polygon points="256.75,587.86 260.35,594.34 253.15,594.34" fill="#4472c4"/>
<rect x="295.42" y="469.91" width="7" height="7" fill="#7f7f7f"/>
<circle cx="298.92" cy="563.80" r="3.5" fill="#c55a11"/>
<polygon points="298.92,584.22 302.52,590.70 295.32,590.70" fill="#4472c4"/>
<text x="505" y="356.5" font-size="14" text-anchor="middle" textLength="137" lengthAdjust="spacingAndGlyphs" fill="#333333" stroke="#333333" stroke-width="0.10">BSMA - Colon (long)</text>
<polygon points="448.80,379.15 452.30,385.45 445.30,385.45" fill="#4472c4"/>
<text x="456.7" y="386.6" font-size="12" textLength="22.4" lengthAdjust="spacingAndGlyphs" fill="#333333" stroke="#333333" stroke-width="0.10">OEE</text>
<rect x="491.65" y="378.95" width="6.5" height="6.5" fill="#7f7f7f"/>
<text x="501.8" y="386.6" font-size="12" textLength="22.4" lengthAdjust="spacingAndGlyphs" fill="#333333" stroke="#333333" stroke-width="0.10">HSE</text>
<circle cx="539.00" cy="382.20" r="3.4" fill="#ed7d31"/>
<text x="546.9" y="386.6" font-size="12" textLength="20" lengthAdjust="spacingAndGlyphs" fill="#333333" stroke="#333333" stroke-width="0.10">HM</text>
<line x1="402.3" y1="409.0" x2="661.3" y2="409.0" stroke="#d9d9d9" stroke-width="1"/>
<text x="388.3" y="413.6" font-size="13" text-anchor="end" fill="#333333" stroke="#333333" stroke-width="0.10">10</text>
<line x1="402.3" y1="445.4166666666667" x2="661.3" y2="445.4166666666667" stroke="#d9d9d9" stroke-width="1"/>
<text x="388.3" y="450.0166666666667" font-size="13" text-anchor="end" fill="#333333" stroke="#333333" stroke-width="0.10">0</text>
<line x1="402.3" y1="481.8333333333333" x2="661.3" y2="481.8333333333333" stroke="#d9d9d9" stroke-width="1"/>
<text x="388.3" y="486.43333333333334" font-size="13" text-anchor="end" fill="#333333" stroke="#333333" stroke-width="0.10">-10</text>
<line x1="402.3" y1="518.25" x2="661.3" y2="518.25" stroke="#d9d9d9" stroke-width="1"/>
<text x="388.3" y="522.85" font-size="13" text-anchor="end" fill="#333333" stroke="#333333" stroke-width="0.10">-20</text>
<line x1="402.3" y1="554.6666666666666" x2="661.3" y2="554.6666666666666" stroke="#d9d9d9" stroke-width="1"/>
<text x="388.3" y="559.2666666666667" font-size="13" text-anchor="end" fill="#333333" stroke="#333333" stroke-width="0.10">-30</text>
<line x1="402.3" y1="591.0833333333334" x2="661.3" y2="591.0833333333334" stroke="#d9d9d9" stroke-width="1"/>
<text x="388.3" y="595.6833333333334" font-size="13" text-anchor="end" fill="#333333" stroke="#333333" stroke-width="0.10">-40</text>
<line x1="402.3" y1="627.5" x2="661.3" y2="627.5" stroke="#d9d9d9" stroke-width="1"/>
<text x="388.3" y="632.1" font-size="13" text-anchor="end" fill="#333333" stroke="#333333" stroke-width="0.10">-50</text>
<text x="0" y="0" transform="translate(361.3,518.5) rotate(-90)" font-size="12" text-anchor="middle" textLength="65" lengthAdjust="spacingAndGlyphs" fill="#333333" stroke="#333333" stroke-width="0.10">% variation</text>
<text x="423.8833333333333" y="646.3" font-size="10" text-anchor="middle" textLength="18.5" lengthAdjust="spacingAndGlyphs" fill="#333333" stroke="#333333" stroke-width="0.12">CTR</text>
<text x="467.05" y="646.3" font-size="10" text-anchor="middle" fill="#333333" stroke="#333333" stroke-width="0.12">0.1</text>
<text x="467.05" y="661.1" font-size="10" text-anchor="middle" textLength="34" lengthAdjust="spacingAndGlyphs" fill="#333333" stroke="#333333" stroke-width="0.12">mg/mL</text>
<text x="510.21666666666664" y="646.3" font-size="10" text-anchor="middle" fill="#333333" stroke="#333333" stroke-width="0.12">0.5</text>
<text x="510.21666666666664" y="661.1" font-size="10" text-anchor="middle" textLength="34" lengthAdjust="spacingAndGlyphs" fill="#333333" stroke="#333333" stroke-width="0.12">mg/mL</text>
<text x="553.3833333333333" y="646.3" font-size="10" text-anchor="middle" fill="#333333" stroke="#333333" stroke-width="0.12">1.0</text>
<text x="553.3833333333333" y="661.1" font-size="10" text-anchor="middle" textLength="34" lengthAdjust="spacingAndGlyphs" fill="#333333" stroke="#333333" stroke-width="0.12">mg/mL</text>
<text x="596.55" y="646.3" font-size="10" text-anchor="middle" fill="#333333" stroke="#333333" stroke-width="0.12">5.0</text>
<text x="596.55" y="661.1" font-size="10" text-anchor="middle" textLength="34" lengthAdjust="spacingAndGlyphs" fill="#333333" stroke="#333333" stroke-width="0.12">mg/mL</text>
<text x="639.7166666666667" y="646.3" font-size="10" text-anchor="middle" fill="#333333" stroke="#333333" stroke-width="0.12">10.0</text>
<text x="639.7166666666667" y="661.1" font-size="10" text-anchor="middle" textLength="34" lengthAdjust="spacingAndGlyphs" fill="#333333" stroke="#333333" stroke-width="0.12">mg/mL</text>
<rect x="420.38" y="441.92" width="7" height="7" fill="#ed7d31"/>
<rect x="463.55" y="418.25" width="7" height="7" fill="#7f7f7f"/>
<polygon points="467.05,472.40 470.65,478.88 463.45,478.88" fill="#4472c4"/>
<circle cx="467.05" cy="474.55" r="3.5" fill="#ed7d31"/>
<rect x="506.72" y="426.99" width="7" height="7" fill="#7f7f7f"/>
<polygon points="510.22,498.99 513.82,505.47 506.62,505.47" fill="#4472c4"/>
<circle cx="510.22" cy="512.42" r="3.5" fill="#ed7d31"/>
<rect x="549.88" y="520.21" width="7" height="7" fill="#7f7f7f"/>
<polygon points="553.38,535.04 556.98,541.52 549.78,541.52" fill="#4472c4"/>
<circle cx="553.38" cy="557.22" r="3.5" fill="#ed7d31"/>
<rect x="593.05" y="446.65" width="7" height="7" fill="#7f7f7f"/>
<polygon points="596.55,567.09 600.15,573.57 592.95,573.57" fill="#4472c4"/>
<circle cx="596.55" cy="582.34" r="3.5" fill="#ed7d31"/>
<rect x="636.22" y="448.47" width="7" height="7" fill="#7f7f7f"/>
<polygon points="639.72,540.50 643.32,546.98 636.12,546.98" fill="#4472c4"/>
<circle cx="639.72" cy="598.73" r="3.5" fill="#ed7d31"/>
<text x="699.5" y="523.5" font-size="32" text-anchor="middle" textLength="39" lengthAdjust="spacingAndGlyphs" font-weight="bold" fill="#000">(b)</text>
<line x1="42.7" y1="837.4" x2="197.2" y2="837.4" stroke="#e6e6e6" stroke-width="1"/>
<text x="34.8" y="839.9" font-size="7" text-anchor="end" textLength="20.5" lengthAdjust="spacingAndGlyphs" fill="#333333" stroke="#333333" stroke-width="0.12">0.0000</text>
<line x1="42.7" y1="803.175" x2="197.2" y2="803.175" stroke="#e6e6e6" stroke-width="1"/>
<text x="34.8" y="805.675" font-size="7" text-anchor="end" textLength="20.5" lengthAdjust="spacingAndGlyphs" fill="#333333" stroke="#333333" stroke-width="0.12">0.0050</text>
<line x1="42.7" y1="768.95" x2="197.2" y2="768.95" stroke="#e6e6e6" stroke-width="1"/>
<text x="34.8" y="771.45" font-size="7" text-anchor="end" textLength="20.5" lengthAdjust="spacingAndGlyphs" fill="#333333" stroke="#333333" stroke-width="0.12">0.0100</text>
<line x1="42.7" y1="734.725" x2="197.2" y2="734.725" stroke="#e6e6e6" stroke-width="1"/>
<text x="34.8" y="737.225" font-size="7" text-anchor="end" textLength="20.5" lengthAdjust="spacingAndGlyphs" fill="#333333" stroke="#333333" stroke-width="0.12">0.0150</text>
<line x1="42.7" y1="700.5" x2="197.2" y2="700.5" stroke="#e6e6e6" stroke-width="1"/>
<text x="34.8" y="703.0" font-size="7" text-anchor="end" textLength="20.5" lengthAdjust="spacingAndGlyphs" fill="#333333" stroke="#333333" stroke-width="0.12">0.0200</text>
<text x="48.1" y="688.2" font-size="9.5" textLength="101" lengthAdjust="spacingAndGlyphs" fill="#333333" stroke="#333333" stroke-width="0.12">PSD - Colon (long) - OEE</text>
<text x="0" y="0" transform="translate(8.8,769) rotate(-90)" font-size="7.6" text-anchor="middle" fill="#333333" stroke="#333333" stroke-width="0.12">Power (g<tspan font-size="5" dy="-3">2</tspan><tspan dy="3">)</tspan></text>
<rect x="47.18" y="825.76" width="4.60" height="11.64" fill="#4472c4"/>
<rect x="52.98" y="835.00" width="4.60" height="2.40" fill="#ed7d31"/>
<rect x="58.78" y="837.19" width="4.60" height="0.21" fill="#a5a5a5"/>
<text x="55.575" y="849.6999999999999" font-size="7" text-anchor="middle" textLength="11.5" lengthAdjust="spacingAndGlyphs" fill="#333333" stroke="#333333" stroke-width="0.12">CTR</text>
<rect x="72.93" y="805.91" width="4.60" height="31.49" fill="#4472c4"/>
<rect x="78.73" y="833.70" width="4.60" height="3.70" fill="#ed7d31"/>
<rect x="84.53" y="837.19" width="4.60" height="0.21" fill="#a5a5a5"/>
<text x="81.325" y="849.6999999999999" font-size="7" text-anchor="middle" fill="#333333" stroke="#333333" stroke-width="0.12">0.1</text>
<text x="81.325" y="858.9" font-size="7" text-anchor="middle" textLength="21" lengthAdjust="spacingAndGlyphs" fill="#333333" stroke="#333333" stroke-width="0.12">mg/mL</text>
<rect x="98.68" y="783.32" width="4.60" height="54.08" fill="#4472c4"/>
<rect x="104.48" y="832.40" width="4.60" height="5.00" fill="#ed7d31"/>
<rect x="110.28" y="837.19" width="4.60" height="0.21" fill="#a5a5a5"/>
<text x="107.075" y="849.6999999999999" font-size="7" text-anchor="middle" fill="#333333" stroke="#333333" stroke-width="0.12">0.5</text>
<text x="107.075" y="858.9" font-size="7" text-anchor="middle" textLength="21" lengthAdjust="spacingAndGlyphs" fill="#333333" stroke="#333333" stroke-width="0.12">mg/mL</text>
<rect x="124.42" y="818.23" width="4.60" height="19.17" fill="#4472c4"/>
<rect x="130.22" y="835.48" width="4.60" height="1.92" fill="#ed7d31"/>
<text x="132.825" y="849.6999999999999" font-size="7" text-anchor="middle" fill="#333333" stroke="#333333" stroke-width="0.12">1.0</text>
<text x="132.825" y="858.9" font-size="7" text-anchor="middle" textLength="21" lengthAdjust="spacingAndGlyphs" fill="#333333" stroke="#333333" stroke-width="0.12">mg/mL</text>
<rect x="150.17" y="833.98" width="4.60" height="3.42" fill="#4472c4"/>
<rect x="155.97" y="836.72" width="4.60" height="0.68" fill="#ed7d31"/>
<text x="158.575" y="849.6999999999999" font-size="7" text-anchor="middle" fill="#333333" stroke="#333333" stroke-width="0.12">5.0</text>
<text x="158.575" y="858.9" font-size="7" text-anchor="middle" textLength="21" lengthAdjust="spacingAndGlyphs" fill="#333333" stroke="#333333" stroke-width="0.12">mg/mL</text>
<rect x="175.92" y="835.69" width="4.60" height="1.71" fill="#4472c4"/>
<rect x="181.72" y="837.06" width="4.60" height="0.34" fill="#ed7d31"/>
<text x="184.325" y="849.6999999999999" font-size="7" text-anchor="middle" fill="#333333" stroke="#333333" stroke-width="0.12">10.0</text>
<text x="184.325" y="858.9" font-size="7" text-anchor="middle" textLength="21" lengthAdjust="spacingAndGlyphs" fill="#333333" stroke="#333333" stroke-width="0.12">mg/mL</text>
<rect x="69.7" y="870.5" width="4.6" height="4.6" fill="#4472c4"/>
<text x="75.7" y="875.8" font-size="8" fill="#333333" stroke="#333333" stroke-width="0.12">LF</text>
<rect x="90.3" y="870.5" width="4.6" height="4.6" fill="#ed7d31"/>
<text x="97.2" y="875.8" font-size="8" fill="#333333" stroke="#333333" stroke-width="0.12">MF</text>
<rect x="114.5" y="870.5" width="4.6" height="4.6" fill="#a5a5a5"/>
<text x="121.7" y="875.8" font-size="8" fill="#333333" stroke="#333333" stroke-width="0.12">HF</text>
<line x1="277.1" y1="835.1" x2="431.6" y2="835.1" stroke="#e6e6e6" stroke-width="1"/>
<text x="269.8" y="837.6" font-size="7" text-anchor="end" textLength="20.5" lengthAdjust="spacingAndGlyphs" fill="#333333" stroke="#333333" stroke-width="0.12">0.0000</text>
<line x1="277.1" y1="800.875" x2="431.6" y2="800.875" stroke="#e6e6e6" stroke-width="1"/>
<text x="269.8" y="803.375" font-size="7" text-anchor="end" textLength="20.5" lengthAdjust="spacingAndGlyphs" fill="#333333" stroke="#333333" stroke-width="0.12">0.0050</text>
<line x1="277.1" y1="766.6500000000001" x2="431.6" y2="766.6500000000001" stroke="#e6e6e6" stroke-width="1"/>
<text x="269.8" y="769.1500000000001" font-size="7" text-anchor="end" textLength="20.5" lengthAdjust="spacingAndGlyphs" fill="#333333" stroke="#333333" stroke-width="0.12">0.0100</text>
<line x1="277.1" y1="732.4250000000001" x2="431.6" y2="732.4250000000001" stroke="#e6e6e6" stroke-width="1"/>
<text x="269.8" y="734.9250000000001" font-size="7" text-anchor="end" textLength="20.5" lengthAdjust="spacingAndGlyphs" fill="#333333" stroke="#333333" stroke-width="0.12">0.0150</text>
<line x1="277.1" y1="698.2" x2="431.6" y2="698.2" stroke="#e6e6e6" stroke-width="1"/>
<text x="269.8" y="700.7" font-size="7" text-anchor="end" textLength="20.5" lengthAdjust="spacingAndGlyphs" fill="#333333" stroke="#333333" stroke-width="0.12">0.0200</text>
<text x="282.4" y="686.6" font-size="9.5" textLength="101" lengthAdjust="spacingAndGlyphs" fill="#333333" stroke="#333333" stroke-width="0.12">PSD - Colon (long) - HSE</text>
<text x="0" y="0" transform="translate(243.6,767) rotate(-90)" font-size="7.6" text-anchor="middle" fill="#333333" stroke="#333333" stroke-width="0.12">Power (g<tspan font-size="5" dy="-3">2</tspan><tspan dy="3">)</tspan></text>
<rect x="281.57" y="830.10" width="4.60" height="5.00" fill="#4472c4"/>
<rect x="287.38" y="824.15" width="4.60" height="10.95" fill="#ed7d31"/>
<rect x="293.18" y="834.76" width="4.60" height="0.34" fill="#a5a5a5"/>
<text x="289.975" y="847.4" font-size="7" text-anchor="middle" textLength="11.5" lengthAdjust="spacingAndGlyphs" fill="#333333" stroke="#333333" stroke-width="0.12">CTR</text>
<rect x="307.32" y="826.89" width="4.60" height="8.21" fill="#4472c4"/>
<rect x="313.12" y="814.57" width="4.60" height="20.53" fill="#ed7d31"/>
<rect x="318.93" y="834.76" width="4.60" height="0.34" fill="#a5a5a5"/>
<text x="315.725" y="847.4" font-size="7" text-anchor="middle" fill="#333333" stroke="#333333" stroke-width="0.12">0.1</text>
<text x="315.725" y="856.6" font-size="7" text-anchor="middle" textLength="21" lengthAdjust="spacingAndGlyphs" fill="#333333" stroke="#333333" stroke-width="0.12">mg/mL</text>
<rect x="333.07" y="794.71" width="4.60" height="40.39" fill="#4472c4"/>
<rect x="338.88" y="789.24" width="4.60" height="45.86" fill="#ed7d31"/>
<rect x="344.68" y="834.55" width="4.60" height="0.55" fill="#a5a5a5"/>
<text x="341.475" y="847.4" font-size="7" text-anchor="middle" fill="#333333" stroke="#333333" stroke-width="0.12">0.5</text>
<text x="341.475" y="856.6" font-size="7" text-anchor="middle" textLength="21" lengthAdjust="spacingAndGlyphs" fill="#333333" stroke="#333333" stroke-width="0.12">mg/mL</text>
<rect x="358.82" y="710.52" width="4.60" height="124.58" fill="#4472c4"/>
<rect x="364.62" y="829.42" width="4.60" height="5.68" fill="#ed7d31"/>
<rect x="370.43" y="834.76" width="4.60" height="0.34" fill="#a5a5a5"/>
<text x="367.225" y="847.4" font-size="7" text-anchor="middle" fill="#333333" stroke="#333333" stroke-width="0.12">1.0</text>
<text x="367.225" y="856.6" font-size="7" text-anchor="middle" textLength="21" lengthAdjust="spacingAndGlyphs" fill="#333333" stroke="#333333" stroke-width="0.12">mg/mL</text>
<rect x="384.57" y="822.78" width="4.60" height="12.32" fill="#4472c4"/>
<rect x="390.38" y="832.70" width="4.60" height="2.40" fill="#ed7d31"/>
<text x="392.975" y="847.4" font-size="7" text-anchor="middle" fill="#333333" stroke="#333333" stroke-width="0.12">5.0</text>
<text x="392.975" y="856.6" font-size="7" text-anchor="middle" textLength="21" lengthAdjust="spacingAndGlyphs" fill="#333333" stroke="#333333" stroke-width="0.12">mg/mL</text>
<rect x="410.32" y="834.89" width="4.60" height="0.21" fill="#4472c4"/>
<text x="418.725" y="847.4" font-size="7" text-anchor="middle" fill="#333333" stroke="#333333" stroke-width="0.12">10.0</text>
<text x="418.725" y="856.6" font-size="7" text-anchor="middle" textLength="21" lengthAdjust="spacingAndGlyphs" fill="#333333" stroke="#333333" stroke-width="0.12">mg/mL</text>
<rect x="304.1" y="868.2" width="4.6" height="4.6" fill="#4472c4"/>
<text x="310.1" y="873.5" font-size="8" fill="#333333" stroke="#333333" stroke-width="0.12">LF</text>
<rect x="324.7" y="868.2" width="4.6" height="4.6" fill="#ed7d31"/>
<text x="331.6" y="873.5" font-size="8" fill="#333333" stroke="#333333" stroke-width="0.12">MF</text>
<rect x="348.9" y="868.2" width="4.6" height="4.6" fill="#a5a5a5"/>
<text x="356.1" y="873.5" font-size="8" fill="#333333" stroke="#333333" stroke-width="0.12">HF</text>
<line x1="512.2" y1="837.4" x2="666.3" y2="837.4" stroke="#e6e6e6" stroke-width="1"/>
<text x="504.6" y="839.9" font-size="7" text-anchor="end" textLength="20.5" lengthAdjust="spacingAndGlyphs" fill="#333333" stroke="#333333" stroke-width="0.12">0.0000</text>
<line x1="512.2" y1="803.175" x2="666.3" y2="803.175" stroke="#e6e6e6" stroke-width="1"/>
<text x="504.6" y="805.675" font-size="7" text-anchor="end" textLength="20.5" lengthAdjust="spacingAndGlyphs" fill="#333333" stroke="#333333" stroke-width="0.12">0.0050</text>
<line x1="512.2" y1="768.95" x2="666.3" y2="768.95" stroke="#e6e6e6" stroke-width="1"/>
<text x="504.6" y="771.45" font-size="7" text-anchor="end" textLength="20.5" lengthAdjust="spacingAndGlyphs" fill="#333333" stroke="#333333" stroke-width="0.12">0.0100</text>
<line x1="512.2" y1="734.725" x2="666.3" y2="734.725" stroke="#e6e6e6" stroke-width="1"/>
<text x="504.6" y="737.225" font-size="7" text-anchor="end" textLength="20.5" lengthAdjust="spacingAndGlyphs" fill="#333333" stroke="#333333" stroke-width="0.12">0.0150</text>
<line x1="512.2" y1="700.5" x2="666.3" y2="700.5" stroke="#e6e6e6" stroke-width="1"/>
<text x="504.6" y="703.0" font-size="7" text-anchor="end" textLength="20.5" lengthAdjust="spacingAndGlyphs" fill="#333333" stroke="#333333" stroke-width="0.12">0.0200</text>
<text x="517.1" y="688.2" font-size="9.5" textLength="101" lengthAdjust="spacingAndGlyphs" fill="#333333" stroke="#333333" stroke-width="0.12">PSD - Colon (long) - HM</text>
<text x="0" y="0" transform="translate(478.6,769) rotate(-90)" font-size="7.6" text-anchor="middle" fill="#333333" stroke="#333333" stroke-width="0.12">Power (g<tspan font-size="5" dy="-3">2</tspan><tspan dy="3">)</tspan></text>
<rect x="516.64" y="825.76" width="4.60" height="11.64" fill="#4472c4"/>
<rect x="522.44" y="827.82" width="4.60" height="9.58" fill="#ed7d31"/>
<rect x="528.24" y="835.69" width="4.60" height="1.71" fill="#a5a5a5"/>
<text x="525.0416666666667" y="849.6999999999999" font-size="7" text-anchor="middle" textLength="11.5" lengthAdjust="spacingAndGlyphs" fill="#333333" stroke="#333333" stroke-width="0.12">CTR</text>
<rect x="542.33" y="829.39" width="4.60" height="8.01" fill="#4472c4"/>
<rect x="548.12" y="830.08" width="4.60" height="7.32" fill="#ed7d31"/>
<rect x="553.93" y="836.72" width="4.60" height="0.68" fill="#a5a5a5"/>
<text x="550.725" y="849.6999999999999" font-size="7" text-anchor="middle" fill="#333333" stroke="#333333" stroke-width="0.12">0.1</text>
<text x="550.725" y="858.9" font-size="7" text-anchor="middle" textLength="21" lengthAdjust="spacingAndGlyphs" fill="#333333" stroke="#333333" stroke-width="0.12">mg/mL</text>
<rect x="568.01" y="835.69" width="4.60" height="1.71" fill="#4472c4"/>
<rect x="573.81" y="833.29" width="4.60" height="4.11" fill="#ed7d31"/>
<rect x="579.61" y="837.19" width="4.60" height="0.21" fill="#a5a5a5"/>
<text x="576.4083333333333" y="849.6999999999999" font-size="7" text-anchor="middle" fill="#333333" stroke="#333333" stroke-width="0.12">0.5</text>
<text x="576.4083333333333" y="858.9" font-size="7" text-anchor="middle" textLength="21" lengthAdjust="spacingAndGlyphs" fill="#333333" stroke="#333333" stroke-width="0.12">mg/mL</text>
<rect x="593.69" y="836.72" width="4.60" height="0.68" fill="#4472c4"/>
<rect x="599.49" y="834.39" width="4.60" height="3.01" fill="#ed7d31"/>
<text x="602.0916666666667" y="849.6999999999999" font-size="7" text-anchor="middle" fill="#333333" stroke="#333333" stroke-width="0.12">1.0</text>
<text x="602.0916666666667" y="858.9" font-size="7" text-anchor="middle" textLength="21" lengthAdjust="spacingAndGlyphs" fill="#333333" stroke="#333333" stroke-width="0.12">mg/mL</text>
<rect x="619.38" y="837.19" width="4.60" height="0.21" fill="#4472c4"/>
<rect x="625.17" y="836.72" width="4.60" height="0.68" fill="#ed7d31"/>
<text x="627.775" y="849.6999999999999" font-size="7" text-anchor="middle" fill="#333333" stroke="#333333" stroke-width="0.12">5.0</text>
<text x="627.775" y="858.9" font-size="7" text-anchor="middle" textLength="21" lengthAdjust="spacingAndGlyphs" fill="#333333" stroke="#333333" stroke-width="0.12">mg/mL</text>
<rect x="650.86" y="837.06" width="4.60" height="0.34" fill="#ed7d31"/>
<text x="653.4583333333333" y="849.6999999999999" font-size="7" text-anchor="middle" fill="#333333" stroke="#333333" stroke-width="0.12">10.0</text>
<text x="653.4583333333333" y="858.9" font-size="7" text-anchor="middle" textLength="21" lengthAdjust="spacingAndGlyphs" fill="#333333" stroke="#333333" stroke-width="0.12">mg/mL</text>
<rect x="539.2" y="870.5" width="4.6" height="4.6" fill="#4472c4"/>
<text x="545.2" y="875.8" font-size="8" fill="#333333" stroke="#333333" stroke-width="0.12">LF</text>
<rect x="559.8" y="870.5" width="4.6" height="4.6" fill="#ed7d31"/>
<text x="566.7" y="875.8" font-size="8" fill="#333333" stroke="#333333" stroke-width="0.12">MF</text>
<rect x="584.0" y="870.5" width="4.6" height="4.6" fill="#a5a5a5"/>
<text x="591.2" y="875.8" font-size="8" fill="#333333" stroke="#333333" stroke-width="0.12">HF</text>
<line x1="39.3" y1="914.2" x2="196.5" y2="914.2" stroke="#e6e6e6" stroke-width="1"/>
<text x="31.3" y="917.1" font-size="8" text-anchor="end" fill="#333333" stroke="#333333" stroke-width="0.12">400</text>
<line x1="39.3" y1="936.9666666666667" x2="196.5" y2="936.9666666666667" stroke="#e6e6e6" stroke-width="1"/>
<text x="31.3" y="939.8666666666667" font-size="8" text-anchor="end" fill="#333333" stroke="#333333" stroke-width="0.12">300</text>
<line x1="39.3" y1="959.7333333333333" x2="196.5" y2="959.7333333333333" stroke="#e6e6e6" stroke-width="1"/>
<text x="31.3" y="962.6333333333333" font-size="8" text-anchor="end" fill="#333333" stroke="#333333" stroke-width="0.12">200</text>
<line x1="39.3" y1="982.5" x2="196.5" y2="982.5" stroke="#e6e6e6" stroke-width="1"/>
<text x="31.3" y="985.4" font-size="8" text-anchor="end" fill="#333333" stroke="#333333" stroke-width="0.12">100</text>
<line x1="39.3" y1="1005.2666666666667" x2="196.5" y2="1005.2666666666667" stroke="#e6e6e6" stroke-width="1"/>
<text x="31.3" y="1008.1666666666666" font-size="8" text-anchor="end" fill="#333333" stroke="#333333" stroke-width="0.12">0</text>
<line x1="39.3" y1="1028.0333333333333" x2="196.5" y2="1028.0333333333333" stroke="#e6e6e6" stroke-width="1"/>
<text x="31.3" y="1030.9333333333334" font-size="8" text-anchor="end" fill="#333333" stroke="#333333" stroke-width="0.12">-100</text>
<line x1="39.3" y1="1050.8" x2="196.5" y2="1050.8" stroke="#e6e6e6" stroke-width="1"/>
<text x="31.3" y="1053.7" font-size="8" text-anchor="end" fill="#333333" stroke="#333333" stroke-width="0.12">-200</text>
<text x="27.2" y="900.5" font-size="9.5" textLength="142" lengthAdjust="spacingAndGlyphs" fill="#333333" stroke="#333333" stroke-width="0.12">PSD Variation - Colon (long) - OEE</text>
<text x="0" y="0" transform="translate(9.0,982.5) rotate(-90)" font-size="8" text-anchor="middle" textLength="40.5" lengthAdjust="spacingAndGlyphs" fill="#333333" stroke="#333333" stroke-width="0.12">% variation</text>
<rect x="50.00" y="1002.87" width="4.8" height="4.8" fill="#4472c4"/>
<circle cx="52.40" cy="1005.27" r="2.5" fill="#ed7d31"/>
<polygon points="52.40,1002.93 55.00,1007.61 49.80,1007.61" fill="#a5a5a5"/>
<text x="52.4" y="1063.1" font-size="7" text-anchor="middle" textLength="11.5" lengthAdjust="spacingAndGlyphs" fill="#333333" stroke="#333333" stroke-width="0.12">CTR</text>
<rect x="76.20" y="964.39" width="4.8" height="4.8" fill="#4472c4"/>
<circle cx="78.60" cy="993.43" r="2.5" fill="#ed7d31"/>
<polygon points="78.60,999.51 81.20,1004.19 76.00,1004.19" fill="#a5a5a5"/>
<text x="78.6" y="1063.1" font-size="7" text-anchor="middle" fill="#333333" stroke="#333333" stroke-width="0.12">0.1</text>
<text x="78.6" y="1072.3" font-size="7" text-anchor="middle" textLength="21" lengthAdjust="spacingAndGlyphs" fill="#333333" stroke="#333333" stroke-width="0.12">mg/mL</text>
<rect x="102.40" y="919.54" width="4.8" height="4.8" fill="#4472c4"/>
<circle cx="104.80" cy="976.13" r="2.5" fill="#ed7d31"/>
<polygon points="104.80,990.63 107.40,995.31 102.20,995.31" fill="#a5a5a5"/>
<text x="104.8" y="1063.1" font-size="7" text-anchor="middle" fill="#333333" stroke="#333333" stroke-width="0.12">0.5</text>
<text x="104.8" y="1072.3" font-size="7" text-anchor="middle" textLength="21" lengthAdjust="spacingAndGlyphs" fill="#333333" stroke="#333333" stroke-width="0.12">mg/mL</text>
<rect x="128.60" y="987.61" width="4.8" height="4.8" fill="#4472c4"/>
<circle cx="131.00" cy="1011.64" r="2.5" fill="#ed7d31"/>
<polygon points="131.00,1012.26 133.60,1016.94 128.40,1016.94" fill="#a5a5a5"/>
<text x="131.0" y="1063.1" font-size="7" text-anchor="middle" fill="#333333" stroke="#333333" stroke-width="0.12">1.0</text>
<text x="131.0" y="1072.3" font-size="7" text-anchor="middle" textLength="21" lengthAdjust="spacingAndGlyphs" fill="#333333" stroke="#333333" stroke-width="0.12">mg/mL</text>
<rect x="154.80" y="1019.49" width="4.8" height="4.8" fill="#4472c4"/>
<circle cx="157.20" cy="1022.34" r="2.5" fill="#ed7d31"/>
<polygon points="157.20,1022.28 159.80,1026.96 154.60,1026.96" fill="#a5a5a5"/>
<text x="157.2" y="1063.1" font-size="7" text-anchor="middle" fill="#333333" stroke="#333333" stroke-width="0.12">5.0</text>
<text x="157.2" y="1072.3" font-size="7" text-anchor="middle" textLength="21" lengthAdjust="spacingAndGlyphs" fill="#333333" stroke="#333333" stroke-width="0.12">mg/mL</text>
<rect x="181.00" y="1022.67" width="4.8" height="4.8" fill="#4472c4"/>
<circle cx="183.40" cy="1023.48" r="2.5" fill="#ed7d31"/>
<polygon points="183.40,1022.28 186.00,1026.96 180.80,1026.96" fill="#a5a5a5"/>
<text x="183.39999999999998" y="1063.1" font-size="7" text-anchor="middle" fill="#333333" stroke="#333333" stroke-width="0.12">10.0</text>
<text x="183.39999999999998" y="1072.3" font-size="7" text-anchor="middle" textLength="21" lengthAdjust="spacingAndGlyphs" fill="#333333" stroke="#333333" stroke-width="0.12">mg/mL</text>
<rect x="69.2" y="1084.3" width="4.6" height="4.6" fill="#4472c4"/>
<text x="76.4" y="1089.5" font-size="8" fill="#333333" stroke="#333333" stroke-width="0.12">LF</text>
<circle cx="92.20" cy="1086.60" r="2.5" fill="#ed7d31"/>
<text x="97.0" y="1089.5" font-size="8" fill="#333333" stroke="#333333" stroke-width="0.12">MF</text>
<polygon points="117.20,1084.26 119.80,1088.94 114.60,1088.94" fill="#a5a5a5"/>
<text x="121.9" y="1089.5" font-size="8" fill="#333333" stroke="#333333" stroke-width="0.12">HF</text>
<line x1="275.4" y1="914.2" x2="431.3" y2="914.2" stroke="#e6e6e6" stroke-width="1"/>
<text x="267.2" y="917.1" font-size="8" text-anchor="end" fill="#333333" stroke="#333333" stroke-width="0.12">2500</text>
<line x1="275.4" y1="936.9666666666667" x2="431.3" y2="936.9666666666667" stroke="#e6e6e6" stroke-width="1"/>
<text x="267.2" y="939.8666666666667" font-size="8" text-anchor="end" fill="#333333" stroke="#333333" stroke-width="0.12">2000</text>
<line x1="275.4" y1="959.7333333333333" x2="431.3" y2="959.7333333333333" stroke="#e6e6e6" stroke-width="1"/>
<text x="267.2" y="962.6333333333333" font-size="8" text-anchor="end" fill="#333333" stroke="#333333" stroke-width="0.12">1500</text>
<line x1="275.4" y1="982.5" x2="431.3" y2="982.5" stroke="#e6e6e6" stroke-width="1"/>
<text x="267.2" y="985.4" font-size="8" text-anchor="end" fill="#333333" stroke="#333333" stroke-width="0.12">1000</text>
<line x1="275.4" y1="1005.2666666666667" x2="431.3" y2="1005.2666666666667" stroke="#e6e6e6" stroke-width="1"/>
<text x="267.2" y="1008.1666666666666" font-size="8" text-anchor="end" fill="#333333" stroke="#333333" stroke-width="0.12">500</text>
<line x1="275.4" y1="1028.0333333333333" x2="431.3" y2="1028.0333333333333" stroke="#e6e6e6" stroke-width="1"/>
<text x="267.2" y="1030.9333333333334" font-size="8" text-anchor="end" fill="#333333" stroke="#333333" stroke-width="0.12">0</text>
<line x1="275.4" y1="1050.8" x2="431.3" y2="1050.8" stroke="#e6e6e6" stroke-width="1"/>
<text x="267.2" y="1053.7" font-size="8" text-anchor="end" fill="#333333" stroke="#333333" stroke-width="0.12">-500</text>
<text x="261.5" y="900.5" font-size="9.5" textLength="141.5" lengthAdjust="spacingAndGlyphs" fill="#333333" stroke="#333333" stroke-width="0.12">PSD Variation - Colon (long) - HSE</text>
<text x="0" y="0" transform="translate(244.0,982.5) rotate(-90)" font-size="8" text-anchor="middle" textLength="40.5" lengthAdjust="spacingAndGlyphs" fill="#333333" stroke="#333333" stroke-width="0.12">% variation</text>
<rect x="285.99" y="1025.63" width="4.8" height="4.8" fill="#4472c4"/>
<circle cx="288.39" cy="1028.03" r="2.5" fill="#ed7d31"/>
<polygon points="288.39,1025.69 290.99,1030.37 285.79,1030.37" fill="#a5a5a5"/>
<text x="288.39166666666665" y="1063.1" font-size="7" text-anchor="middle" textLength="11.5" lengthAdjust="spacingAndGlyphs" fill="#333333" stroke="#333333" stroke-width="0.12">CTR</text>
<rect x="311.98" y="1023.36" width="4.8" height="4.8" fill="#4472c4"/>
<circle cx="314.38" cy="1024.62" r="2.5" fill="#ed7d31"/>
<polygon points="314.38,1024.01 316.98,1028.69 311.77,1028.69" fill="#a5a5a5"/>
<text x="314.375" y="1063.1" font-size="7" text-anchor="middle" fill="#333333" stroke="#333333" stroke-width="0.12">0.1</text>
<text x="314.375" y="1072.3" font-size="7" text-anchor="middle" textLength="21" lengthAdjust="spacingAndGlyphs" fill="#333333" stroke="#333333" stroke-width="0.12">mg/mL</text>
<rect x="337.96" y="998.54" width="4.8" height="4.8" fill="#4472c4"/>
<circle cx="340.36" cy="1014.46" r="2.5" fill="#ed7d31"/>
<polygon points="340.36,1021.00 342.96,1025.68 337.76,1025.68" fill="#a5a5a5"/>
<text x="340.35833333333335" y="1063.1" font-size="7" text-anchor="middle" fill="#333333" stroke="#333333" stroke-width="0.12">0.5</text>
<text x="340.35833333333335" y="1072.3" font-size="7" text-anchor="middle" textLength="21" lengthAdjust="spacingAndGlyphs" fill="#333333" stroke="#333333" stroke-width="0.12">mg/mL</text>
<rect x="363.94" y="932.47" width="4.8" height="4.8" fill="#4472c4"/>
<circle cx="366.34" cy="1029.95" r="2.5" fill="#ed7d31"/>
<polygon points="366.34,1024.33 368.94,1029.01 363.74,1029.01" fill="#a5a5a5"/>
<text x="366.34166666666664" y="1063.1" font-size="7" text-anchor="middle" fill="#333333" stroke="#333333" stroke-width="0.12">1.0</text>
<text x="366.34166666666664" y="1072.3" font-size="7" text-anchor="middle" textLength="21" lengthAdjust="spacingAndGlyphs" fill="#333333" stroke="#333333" stroke-width="0.12">mg/mL</text>
<rect x="389.93" y="1019.94" width="4.8" height="4.8" fill="#4472c4"/>
<circle cx="392.32" cy="1031.31" r="2.5" fill="#ed7d31"/>
<polygon points="392.32,1029.79 394.93,1034.47 389.72,1034.47" fill="#a5a5a5"/>
<text x="392.325" y="1063.1" font-size="7" text-anchor="middle" fill="#333333" stroke="#333333" stroke-width="0.12">5.0</text>
<text x="392.325" y="1072.3" font-size="7" text-anchor="middle" textLength="21" lengthAdjust="spacingAndGlyphs" fill="#333333" stroke="#333333" stroke-width="0.12">mg/mL</text>
<rect x="415.91" y="1029.91" width="4.8" height="4.8" fill="#4472c4"/>
<circle cx="418.31" cy="1032.31" r="2.5" fill="#ed7d31"/>
<polygon points="418.31,1029.97 420.91,1034.65 415.71,1034.65" fill="#a5a5a5"/>
<text x="418.30833333333334" y="1063.1" font-size="7" text-anchor="middle" fill="#333333" stroke="#333333" stroke-width="0.12">10.0</text>
<text x="418.30833333333334" y="1072.3" font-size="7" text-anchor="middle" textLength="21" lengthAdjust="spacingAndGlyphs" fill="#333333" stroke="#333333" stroke-width="0.12">mg/mL</text>
<rect x="305.3" y="1084.3" width="4.6" height="4.6" fill="#4472c4"/>
<text x="312.49999999999994" y="1089.5" font-size="8" fill="#333333" stroke="#333333" stroke-width="0.12">LF</text>
<circle cx="328.30" cy="1086.60" r="2.5" fill="#ed7d31"/>
<text x="333.09999999999997" y="1089.5" font-size="8" fill="#333333" stroke="#333333" stroke-width="0.12">MF</text>
<polygon points="353.30,1084.26 355.90,1088.94 350.70,1088.94" fill="#a5a5a5"/>
<text x="357.99999999999994" y="1089.5" font-size="8" fill="#333333" stroke="#333333" stroke-width="0.12">HF</text>
<line x1="509" y1="914.2" x2="666.1" y2="914.2" stroke="#e6e6e6" stroke-width="1"/>
<text x="500.3" y="917.1" font-size="8" text-anchor="end" fill="#333333" stroke="#333333" stroke-width="0.12">0</text>
<line x1="509" y1="936.9666666666667" x2="666.1" y2="936.9666666666667" stroke="#e6e6e6" stroke-width="1"/>
<text x="500.3" y="939.8666666666667" font-size="8" text-anchor="end" fill="#333333" stroke="#333333" stroke-width="0.12">-20</text>
<line x1="509" y1="959.7333333333333" x2="666.1" y2="959.7333333333333" stroke="#e6e6e6" stroke-width="1"/>
<text x="500.3" y="962.6333333333333" font-size="8" text-anchor="end" fill="#333333" stroke="#333333" stroke-width="0.12">-40</text>
<line x1="509" y1="982.5" x2="666.1" y2="982.5" stroke="#e6e6e6" stroke-width="1"/>
<text x="500.3" y="985.4" font-size="8" text-anchor="end" fill="#333333" stroke="#333333" stroke-width="0.12">-60</text>
<line x1="509" y1="1005.2666666666667" x2="666.1" y2="1005.2666666666667" stroke="#e6e6e6" stroke-width="1"/>
<text x="500.3" y="1008.1666666666666" font-size="8" text-anchor="end" fill="#333333" stroke="#333333" stroke-width="0.12">-80</text>
<line x1="509" y1="1028.0333333333333" x2="666.1" y2="1028.0333333333333" stroke="#e6e6e6" stroke-width="1"/>
<text x="500.3" y="1030.9333333333334" font-size="8" text-anchor="end" fill="#333333" stroke="#333333" stroke-width="0.12">-100</text>
<line x1="509" y1="1050.8" x2="666.1" y2="1050.8" stroke="#e6e6e6" stroke-width="1"/>
<text x="500.3" y="1053.7" font-size="8" text-anchor="end" fill="#333333" stroke="#333333" stroke-width="0.12">-120</text>
<text x="497.3" y="900.5" font-size="9.5" textLength="140.8" lengthAdjust="spacingAndGlyphs" fill="#333333" stroke="#333333" stroke-width="0.12">PSD Variation - Colon (long) - HM</text>
<text x="0" y="0" transform="translate(477.5,982.5) rotate(-90)" font-size="8" text-anchor="middle" textLength="40.5" lengthAdjust="spacingAndGlyphs" fill="#333333" stroke="#333333" stroke-width="0.12">% variation</text>
<rect x="519.69" y="911.80" width="4.8" height="4.8" fill="#4472c4"/>
<circle cx="522.09" cy="914.20" r="2.5" fill="#ed7d31"/>
<polygon points="522.09,911.86 524.69,916.54 519.49,916.54" fill="#a5a5a5"/>
<text x="522.0916666666667" y="1063.1" font-size="7" text-anchor="middle" textLength="11.5" lengthAdjust="spacingAndGlyphs" fill="#333333" stroke="#333333" stroke-width="0.12">CTR</text>
<rect x="545.88" y="945.27" width="4.8" height="4.8" fill="#4472c4"/>
<circle cx="548.27" cy="937.31" r="2.5" fill="#ed7d31"/>
<polygon points="548.27,972.76 550.88,977.44 545.67,977.44" fill="#a5a5a5"/>
<text x="548.275" y="1063.1" font-size="7" text-anchor="middle" fill="#333333" stroke="#333333" stroke-width="0.12">0.1</text>
<text x="548.275" y="1072.3" font-size="7" text-anchor="middle" textLength="21" lengthAdjust="spacingAndGlyphs" fill="#333333" stroke="#333333" stroke-width="0.12">mg/mL</text>
<rect x="572.06" y="1009.70" width="4.8" height="4.8" fill="#4472c4"/>
<circle cx="574.46" cy="981.70" r="2.5" fill="#ed7d31"/>
<polygon points="574.46,1007.82 577.06,1012.50 571.86,1012.50" fill="#a5a5a5"/>
<text x="574.4583333333334" y="1063.1" font-size="7" text-anchor="middle" fill="#333333" stroke="#333333" stroke-width="0.12">0.5</text>
<text x="574.4583333333334" y="1072.3" font-size="7" text-anchor="middle" textLength="21" lengthAdjust="spacingAndGlyphs" fill="#333333" stroke="#333333" stroke-width="0.12">mg/mL</text>
<rect x="598.24" y="1019.37" width="4.8" height="4.8" fill="#4472c4"/>
<circle cx="600.64" cy="993.31" r="2.5" fill="#ed7d31"/>
<polygon points="600.64,1020.68 603.24,1025.36 598.04,1025.36" fill="#a5a5a5"/>
<text x="600.6416666666667" y="1063.1" font-size="7" text-anchor="middle" fill="#333333" stroke="#333333" stroke-width="0.12">1.0</text>
<text x="600.6416666666667" y="1072.3" font-size="7" text-anchor="middle" textLength="21" lengthAdjust="spacingAndGlyphs" fill="#333333" stroke="#333333" stroke-width="0.12">mg/mL</text>
<rect x="624.43" y="1021.65" width="4.8" height="4.8" fill="#4472c4"/>
<circle cx="626.83" cy="1019.72" r="2.5" fill="#ed7d31"/>
<polygon points="626.83,1023.42 629.43,1028.10 624.23,1028.10" fill="#a5a5a5"/>
<text x="626.825" y="1063.1" font-size="7" text-anchor="middle" fill="#333333" stroke="#333333" stroke-width="0.12">5.0</text>
<text x="626.825" y="1072.3" font-size="7" text-anchor="middle" textLength="21" lengthAdjust="spacingAndGlyphs" fill="#333333" stroke="#333333" stroke-width="0.12">mg/mL</text>
<rect x="650.61" y="1022.22" width="4.8" height="4.8" fill="#4472c4"/>
<circle cx="653.01" cy="1027.35" r="2.5" fill="#ed7d31"/>
<polygon points="653.01,1024.56 655.61,1029.23 650.41,1029.23" fill="#a5a5a5"/>
<text x="653.0083333333333" y="1063.1" font-size="7" text-anchor="middle" fill="#333333" stroke="#333333" stroke-width="0.12">10.0</text>
<text x="653.0083333333333" y="1072.3" font-size="7" text-anchor="middle" textLength="21" lengthAdjust="spacingAndGlyphs" fill="#333333" stroke="#333333" stroke-width="0.12">mg/mL</text>
<rect x="538.9" y="1084.3" width="4.6" height="4.6" fill="#4472c4"/>
<text x="546.1" y="1089.5" font-size="8" fill="#333333" stroke="#333333" stroke-width="0.12">LF</text>
<circle cx="561.90" cy="1086.60" r="2.5" fill="#ed7d31"/>
<text x="566.7" y="1089.5" font-size="8" fill="#333333" stroke="#333333" stroke-width="0.12">MF</text>
<polygon points="586.90,1084.26 589.50,1088.94 584.30,1088.94" fill="#a5a5a5"/>
<text x="591.6" y="1089.5" font-size="8" fill="#333333" stroke="#333333" stroke-width="0.12">HF</text>
<text x="698" y="895.5" font-size="32" text-anchor="middle" textLength="35" lengthAdjust="spacingAndGlyphs" font-weight="bold" fill="#000">(c)</text>
</svg></body></html>
